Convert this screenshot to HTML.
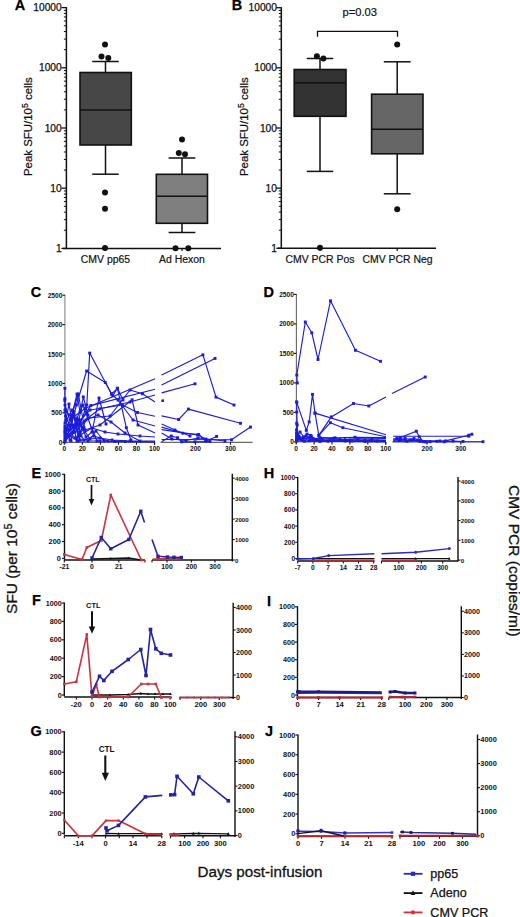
<!DOCTYPE html>
<html><head><meta charset="utf-8"><style>
html,body{margin:0;padding:0;background:#fff;}
svg{display:block;}
text{font-family:"Liberation Sans", sans-serif;}
</style></head><body>
<svg width="520" height="917" viewBox="0 0 520 917">
<rect width="520" height="917" fill="#fff"/>
<text x="14.7" y="9.5" font-size="14.5" font-weight="bold" fill="#000" stroke="#000" stroke-width="0.25">A</text>
<line x1="66.4" y1="7.1" x2="66.4" y2="249.15" stroke="#111" stroke-width="1.5"/>
<line x1="62.9" y1="248.4" x2="221" y2="248.4" stroke="#111" stroke-width="1.5"/>
<line x1="61.4" y1="248.4" x2="66.4" y2="248.4" stroke="#111" stroke-width="1.3"/>
<text x="61.7" y="252" font-size="10.2" text-anchor="end" font-weight="normal" fill="#111" stroke="#111" stroke-width="0.25">1</text>
<line x1="63.9" y1="230.28" x2="66.4" y2="230.28" stroke="#111" stroke-width="1"/>
<line x1="63.9" y1="219.68" x2="66.4" y2="219.68" stroke="#111" stroke-width="1"/>
<line x1="63.9" y1="212.16" x2="66.4" y2="212.16" stroke="#111" stroke-width="1"/>
<line x1="63.9" y1="206.32" x2="66.4" y2="206.32" stroke="#111" stroke-width="1"/>
<line x1="63.9" y1="201.56" x2="66.4" y2="201.56" stroke="#111" stroke-width="1"/>
<line x1="63.9" y1="197.53" x2="66.4" y2="197.53" stroke="#111" stroke-width="1"/>
<line x1="63.9" y1="194.03" x2="66.4" y2="194.03" stroke="#111" stroke-width="1"/>
<line x1="63.9" y1="190.95" x2="66.4" y2="190.95" stroke="#111" stroke-width="1"/>
<line x1="61.4" y1="188.2" x2="66.4" y2="188.2" stroke="#111" stroke-width="1.3"/>
<text x="61.7" y="191.8" font-size="10.2" text-anchor="end" font-weight="normal" fill="#111" stroke="#111" stroke-width="0.25">10</text>
<line x1="63.9" y1="170.08" x2="66.4" y2="170.08" stroke="#111" stroke-width="1"/>
<line x1="63.9" y1="159.48" x2="66.4" y2="159.48" stroke="#111" stroke-width="1"/>
<line x1="63.9" y1="151.96" x2="66.4" y2="151.96" stroke="#111" stroke-width="1"/>
<line x1="63.9" y1="146.12" x2="66.4" y2="146.12" stroke="#111" stroke-width="1"/>
<line x1="63.9" y1="141.36" x2="66.4" y2="141.36" stroke="#111" stroke-width="1"/>
<line x1="63.9" y1="137.33" x2="66.4" y2="137.33" stroke="#111" stroke-width="1"/>
<line x1="63.9" y1="133.83" x2="66.4" y2="133.83" stroke="#111" stroke-width="1"/>
<line x1="63.9" y1="130.75" x2="66.4" y2="130.75" stroke="#111" stroke-width="1"/>
<line x1="61.4" y1="128" x2="66.4" y2="128" stroke="#111" stroke-width="1.3"/>
<text x="61.7" y="131.6" font-size="10.2" text-anchor="end" font-weight="normal" fill="#111" stroke="#111" stroke-width="0.25">100</text>
<line x1="63.9" y1="109.88" x2="66.4" y2="109.88" stroke="#111" stroke-width="1"/>
<line x1="63.9" y1="99.28" x2="66.4" y2="99.28" stroke="#111" stroke-width="1"/>
<line x1="63.9" y1="91.76" x2="66.4" y2="91.76" stroke="#111" stroke-width="1"/>
<line x1="63.9" y1="85.92" x2="66.4" y2="85.92" stroke="#111" stroke-width="1"/>
<line x1="63.9" y1="81.16" x2="66.4" y2="81.16" stroke="#111" stroke-width="1"/>
<line x1="63.9" y1="77.13" x2="66.4" y2="77.13" stroke="#111" stroke-width="1"/>
<line x1="63.9" y1="73.63" x2="66.4" y2="73.63" stroke="#111" stroke-width="1"/>
<line x1="63.9" y1="70.55" x2="66.4" y2="70.55" stroke="#111" stroke-width="1"/>
<line x1="61.4" y1="67.8" x2="66.4" y2="67.8" stroke="#111" stroke-width="1.3"/>
<text x="61.7" y="71.4" font-size="10.2" text-anchor="end" font-weight="normal" fill="#111" stroke="#111" stroke-width="0.25">1000</text>
<line x1="63.9" y1="49.68" x2="66.4" y2="49.68" stroke="#111" stroke-width="1"/>
<line x1="63.9" y1="39.08" x2="66.4" y2="39.08" stroke="#111" stroke-width="1"/>
<line x1="63.9" y1="31.56" x2="66.4" y2="31.56" stroke="#111" stroke-width="1"/>
<line x1="63.9" y1="25.72" x2="66.4" y2="25.72" stroke="#111" stroke-width="1"/>
<line x1="63.9" y1="20.96" x2="66.4" y2="20.96" stroke="#111" stroke-width="1"/>
<line x1="63.9" y1="16.93" x2="66.4" y2="16.93" stroke="#111" stroke-width="1"/>
<line x1="63.9" y1="13.43" x2="66.4" y2="13.43" stroke="#111" stroke-width="1"/>
<line x1="63.9" y1="10.35" x2="66.4" y2="10.35" stroke="#111" stroke-width="1"/>
<line x1="61.4" y1="7.6" x2="66.4" y2="7.6" stroke="#111" stroke-width="1.3"/>
<text x="61.7" y="11.2" font-size="10.2" text-anchor="end" font-weight="normal" fill="#111" stroke="#111" stroke-width="0.25">10000</text>
<line x1="105.5" y1="61.5" x2="105.5" y2="72.5" stroke="#111" stroke-width="1.5"/>
<line x1="105.5" y1="145" x2="105.5" y2="174.2" stroke="#111" stroke-width="1.5"/>
<line x1="92.25" y1="61.5" x2="118.75" y2="61.5" stroke="#111" stroke-width="1.5"/>
<line x1="92.25" y1="174.2" x2="118.75" y2="174.2" stroke="#111" stroke-width="1.5"/>
<rect x="80" y="72.5" width="51.3" height="72.5" fill="#474747" stroke="#111" stroke-width="1.6"/>
<line x1="80" y1="110" x2="131.3" y2="110" stroke="#111" stroke-width="1.6"/>
<line x1="182" y1="158" x2="182" y2="174.3" stroke="#111" stroke-width="1.5"/>
<line x1="182" y1="223.3" x2="182" y2="232.5" stroke="#111" stroke-width="1.5"/>
<line x1="168.6" y1="158" x2="195.4" y2="158" stroke="#111" stroke-width="1.5"/>
<line x1="168.6" y1="232.5" x2="195.4" y2="232.5" stroke="#111" stroke-width="1.5"/>
<rect x="156.3" y="174.3" width="51.2" height="49" fill="#7f7f7f" stroke="#111" stroke-width="1.6"/>
<line x1="156.3" y1="196.3" x2="207.5" y2="196.3" stroke="#111" stroke-width="1.6"/>
<circle cx="105" cy="44.5" r="3" fill="#111"/>
<circle cx="101.5" cy="56.5" r="3" fill="#111"/>
<circle cx="108.3" cy="58" r="3" fill="#111"/>
<circle cx="105" cy="192.5" r="3" fill="#111"/>
<circle cx="105" cy="208.8" r="3" fill="#111"/>
<circle cx="105" cy="248" r="3" fill="#111"/>
<circle cx="182" cy="139.5" r="3" fill="#111"/>
<circle cx="178.8" cy="153" r="3" fill="#111"/>
<circle cx="185" cy="154.3" r="3" fill="#111"/>
<circle cx="175.5" cy="248.2" r="3" fill="#111"/>
<circle cx="188.3" cy="248.2" r="3" fill="#111"/>
<line x1="105.5" y1="248" x2="105.5" y2="251" stroke="#111" stroke-width="1.2"/>
<line x1="182" y1="248" x2="182" y2="251" stroke="#111" stroke-width="1.2"/>
<text x="105.5" y="263.2" font-size="10.45" text-anchor="middle" font-weight="normal" fill="#111" stroke="#111" stroke-width="0.2">CMV pp65</text>
<text x="182" y="263.2" font-size="10.45" text-anchor="middle" font-weight="normal" fill="#111" stroke="#111" stroke-width="0.2">Ad Hexon</text>
<text transform="translate(32.4,126.6) rotate(-90)" font-size="11.45" text-anchor="middle" fill="#111" stroke="#111" stroke-width="0.22">Peak SFU/10<tspan font-size="8.6" dy="-4.6">5</tspan><tspan dy="4.6"> cells</tspan></text>
<text x="231.8" y="9.8" font-size="14.5" font-weight="bold" fill="#000" stroke="#000" stroke-width="0.25">B</text>
<line x1="281.3" y1="7.2" x2="281.3" y2="249.05" stroke="#111" stroke-width="1.5"/>
<line x1="277.8" y1="248.3" x2="436" y2="248.3" stroke="#111" stroke-width="1.5"/>
<line x1="276.3" y1="248.3" x2="281.3" y2="248.3" stroke="#111" stroke-width="1.3"/>
<text x="276.9" y="251.9" font-size="10.2" text-anchor="end" font-weight="normal" fill="#111" stroke="#111" stroke-width="0.25">1</text>
<line x1="278.8" y1="230.19" x2="281.3" y2="230.19" stroke="#111" stroke-width="1"/>
<line x1="278.8" y1="219.6" x2="281.3" y2="219.6" stroke="#111" stroke-width="1"/>
<line x1="278.8" y1="212.09" x2="281.3" y2="212.09" stroke="#111" stroke-width="1"/>
<line x1="278.8" y1="206.26" x2="281.3" y2="206.26" stroke="#111" stroke-width="1"/>
<line x1="278.8" y1="201.49" x2="281.3" y2="201.49" stroke="#111" stroke-width="1"/>
<line x1="278.8" y1="197.47" x2="281.3" y2="197.47" stroke="#111" stroke-width="1"/>
<line x1="278.8" y1="193.98" x2="281.3" y2="193.98" stroke="#111" stroke-width="1"/>
<line x1="278.8" y1="190.9" x2="281.3" y2="190.9" stroke="#111" stroke-width="1"/>
<line x1="276.3" y1="188.15" x2="281.3" y2="188.15" stroke="#111" stroke-width="1.3"/>
<text x="276.9" y="191.75" font-size="10.2" text-anchor="end" font-weight="normal" fill="#111" stroke="#111" stroke-width="0.25">10</text>
<line x1="278.8" y1="170.04" x2="281.3" y2="170.04" stroke="#111" stroke-width="1"/>
<line x1="278.8" y1="159.45" x2="281.3" y2="159.45" stroke="#111" stroke-width="1"/>
<line x1="278.8" y1="151.94" x2="281.3" y2="151.94" stroke="#111" stroke-width="1"/>
<line x1="278.8" y1="146.11" x2="281.3" y2="146.11" stroke="#111" stroke-width="1"/>
<line x1="278.8" y1="141.34" x2="281.3" y2="141.34" stroke="#111" stroke-width="1"/>
<line x1="278.8" y1="137.32" x2="281.3" y2="137.32" stroke="#111" stroke-width="1"/>
<line x1="278.8" y1="133.83" x2="281.3" y2="133.83" stroke="#111" stroke-width="1"/>
<line x1="278.8" y1="130.75" x2="281.3" y2="130.75" stroke="#111" stroke-width="1"/>
<line x1="276.3" y1="128" x2="281.3" y2="128" stroke="#111" stroke-width="1.3"/>
<text x="276.9" y="131.6" font-size="10.2" text-anchor="end" font-weight="normal" fill="#111" stroke="#111" stroke-width="0.25">100</text>
<line x1="278.8" y1="109.89" x2="281.3" y2="109.89" stroke="#111" stroke-width="1"/>
<line x1="278.8" y1="99.3" x2="281.3" y2="99.3" stroke="#111" stroke-width="1"/>
<line x1="278.8" y1="91.79" x2="281.3" y2="91.79" stroke="#111" stroke-width="1"/>
<line x1="278.8" y1="85.96" x2="281.3" y2="85.96" stroke="#111" stroke-width="1"/>
<line x1="278.8" y1="81.19" x2="281.3" y2="81.19" stroke="#111" stroke-width="1"/>
<line x1="278.8" y1="77.17" x2="281.3" y2="77.17" stroke="#111" stroke-width="1"/>
<line x1="278.8" y1="73.68" x2="281.3" y2="73.68" stroke="#111" stroke-width="1"/>
<line x1="278.8" y1="70.6" x2="281.3" y2="70.6" stroke="#111" stroke-width="1"/>
<line x1="276.3" y1="67.85" x2="281.3" y2="67.85" stroke="#111" stroke-width="1.3"/>
<text x="276.9" y="71.45" font-size="10.2" text-anchor="end" font-weight="normal" fill="#111" stroke="#111" stroke-width="0.25">1000</text>
<line x1="278.8" y1="49.74" x2="281.3" y2="49.74" stroke="#111" stroke-width="1"/>
<line x1="278.8" y1="39.15" x2="281.3" y2="39.15" stroke="#111" stroke-width="1"/>
<line x1="278.8" y1="31.64" x2="281.3" y2="31.64" stroke="#111" stroke-width="1"/>
<line x1="278.8" y1="25.81" x2="281.3" y2="25.81" stroke="#111" stroke-width="1"/>
<line x1="278.8" y1="21.04" x2="281.3" y2="21.04" stroke="#111" stroke-width="1"/>
<line x1="278.8" y1="17.02" x2="281.3" y2="17.02" stroke="#111" stroke-width="1"/>
<line x1="278.8" y1="13.53" x2="281.3" y2="13.53" stroke="#111" stroke-width="1"/>
<line x1="278.8" y1="10.45" x2="281.3" y2="10.45" stroke="#111" stroke-width="1"/>
<line x1="276.3" y1="7.7" x2="281.3" y2="7.7" stroke="#111" stroke-width="1.3"/>
<text x="276.9" y="11.3" font-size="10.2" text-anchor="end" font-weight="normal" fill="#111" stroke="#111" stroke-width="0.25">10000</text>
<line x1="320" y1="58.5" x2="320" y2="69.5" stroke="#111" stroke-width="1.5"/>
<line x1="320" y1="116.3" x2="320" y2="171.4" stroke="#111" stroke-width="1.5"/>
<line x1="306.75" y1="58.5" x2="333.25" y2="58.5" stroke="#111" stroke-width="1.5"/>
<line x1="306.75" y1="171.4" x2="333.25" y2="171.4" stroke="#111" stroke-width="1.5"/>
<rect x="294.2" y="69.5" width="51.8" height="46.8" fill="#333333" stroke="#111" stroke-width="1.6"/>
<line x1="294.2" y1="82.8" x2="346" y2="82.8" stroke="#111" stroke-width="1.6"/>
<line x1="397.2" y1="61.8" x2="397.2" y2="94.2" stroke="#111" stroke-width="1.5"/>
<line x1="397.2" y1="153.8" x2="397.2" y2="193.8" stroke="#111" stroke-width="1.5"/>
<line x1="383.8" y1="61.8" x2="410.6" y2="61.8" stroke="#111" stroke-width="1.5"/>
<line x1="383.8" y1="193.8" x2="410.6" y2="193.8" stroke="#111" stroke-width="1.5"/>
<rect x="371.6" y="94.2" width="51.4" height="59.6" fill="#666666" stroke="#111" stroke-width="1.6"/>
<line x1="371.6" y1="129.2" x2="423" y2="129.2" stroke="#111" stroke-width="1.6"/>
<circle cx="316.9" cy="56.3" r="3" fill="#111"/>
<circle cx="323.4" cy="58.5" r="3" fill="#111"/>
<circle cx="320" cy="247.8" r="3" fill="#111"/>
<circle cx="397.2" cy="44.6" r="3" fill="#111"/>
<circle cx="397.2" cy="209.2" r="3" fill="#111"/>
<line x1="320" y1="248" x2="320" y2="251" stroke="#111" stroke-width="1.2"/>
<line x1="397.2" y1="248" x2="397.2" y2="251" stroke="#111" stroke-width="1.2"/>
<text x="320" y="263.2" font-size="10.45" text-anchor="middle" font-weight="normal" fill="#111" stroke="#111" stroke-width="0.2">CMV PCR Pos</text>
<text x="397.5" y="263.2" font-size="10.45" text-anchor="middle" font-weight="normal" fill="#111" stroke="#111" stroke-width="0.2">CMV PCR Neg</text>
<polyline points="317.5,36.8 317.5,31.4 397.5,31.4 397.5,36.8" fill="none" stroke="#111" stroke-width="1.3"/>
<text x="359.7" y="16.3" font-size="11.2" text-anchor="middle" font-weight="normal" fill="#111" stroke="#111" stroke-width="0.2">p=0.03</text>
<text transform="translate(248.4,126.6) rotate(-90)" font-size="11.45" text-anchor="middle" fill="#111" stroke="#111" stroke-width="0.22">Peak SFU/10<tspan font-size="8.6" dy="-4.6">5</tspan><tspan dy="4.6"> cells</tspan></text>
<text x="30.8" y="297.4" font-size="14.5" font-weight="bold" fill="#000" stroke="#000" stroke-width="0.25">C</text>
<line x1="64.9" y1="294.7" x2="64.9" y2="443.8" stroke="#999" stroke-width="1.3"/>
<line x1="62.4" y1="442.3" x2="64.9" y2="442.3" stroke="#111" stroke-width="1.1"/>
<text x="62.3" y="444.8" font-size="6.6" text-anchor="end" font-weight="bold" fill="#111">0</text>
<line x1="62.4" y1="412.88" x2="64.9" y2="412.88" stroke="#111" stroke-width="1.1"/>
<text x="62.3" y="415.38" font-size="6.6" text-anchor="end" font-weight="bold" fill="#111">500</text>
<line x1="62.4" y1="383.46" x2="64.9" y2="383.46" stroke="#111" stroke-width="1.1"/>
<text x="62.3" y="385.96" font-size="6.6" text-anchor="end" font-weight="bold" fill="#111">1000</text>
<line x1="62.4" y1="354.04" x2="64.9" y2="354.04" stroke="#111" stroke-width="1.1"/>
<text x="62.3" y="356.54" font-size="6.6" text-anchor="end" font-weight="bold" fill="#111">1500</text>
<line x1="62.4" y1="324.62" x2="64.9" y2="324.62" stroke="#111" stroke-width="1.1"/>
<text x="62.3" y="327.12" font-size="6.6" text-anchor="end" font-weight="bold" fill="#111">2000</text>
<line x1="62.4" y1="295.2" x2="64.9" y2="295.2" stroke="#111" stroke-width="1.1"/>
<text x="62.3" y="297.7" font-size="6.6" text-anchor="end" font-weight="bold" fill="#111">2500</text>
<line x1="64.5" y1="442.3" x2="154.5" y2="442.3" stroke="#444" stroke-width="1"/>
<line x1="64.3" y1="442.3" x2="64.3" y2="444.8" stroke="#111" stroke-width="1.1"/>
<text x="64.3" y="451" font-size="6.6" text-anchor="middle" font-weight="bold" fill="#111">0</text>
<line x1="82.35" y1="442.3" x2="82.35" y2="444.8" stroke="#111" stroke-width="1.1"/>
<text x="82.35" y="451" font-size="6.6" text-anchor="middle" font-weight="bold" fill="#111">20</text>
<line x1="100.4" y1="442.3" x2="100.4" y2="444.8" stroke="#111" stroke-width="1.1"/>
<text x="100.4" y="451" font-size="6.6" text-anchor="middle" font-weight="bold" fill="#111">40</text>
<line x1="118.45" y1="442.3" x2="118.45" y2="444.8" stroke="#111" stroke-width="1.1"/>
<text x="118.45" y="451" font-size="6.6" text-anchor="middle" font-weight="bold" fill="#111">60</text>
<line x1="136.5" y1="442.3" x2="136.5" y2="444.8" stroke="#111" stroke-width="1.1"/>
<text x="136.5" y="451" font-size="6.6" text-anchor="middle" font-weight="bold" fill="#111">80</text>
<line x1="154.55" y1="442.3" x2="154.55" y2="444.8" stroke="#111" stroke-width="1.1"/>
<text x="154.55" y="451" font-size="6.6" text-anchor="middle" font-weight="bold" fill="#111">100</text>
<line x1="160.5" y1="442.3" x2="252.6" y2="442.3" stroke="#444" stroke-width="1"/>
<line x1="154.55" y1="442.3" x2="154.55" y2="444.8" stroke="#111" stroke-width="1.1"/>
<line x1="195.5" y1="442.3" x2="195.5" y2="444.8" stroke="#111" stroke-width="1.1"/>
<text x="195.5" y="451" font-size="6.6" text-anchor="middle" font-weight="bold" fill="#111">200</text>
<line x1="230.5" y1="442.3" x2="230.5" y2="444.8" stroke="#111" stroke-width="1.1"/>
<text x="230.5" y="451" font-size="6.6" text-anchor="middle" font-weight="bold" fill="#111">300</text>
<text x="263.6" y="296.7" font-size="14.5" font-weight="bold" fill="#000" stroke="#000" stroke-width="0.25">D</text>
<line x1="296.4" y1="293.9" x2="296.4" y2="443.4" stroke="#666" stroke-width="1.1"/>
<line x1="293.9" y1="441.9" x2="296.4" y2="441.9" stroke="#111" stroke-width="1.1"/>
<text x="293.8" y="444.4" font-size="6.6" text-anchor="end" font-weight="bold" fill="#111">0</text>
<line x1="293.9" y1="412.4" x2="296.4" y2="412.4" stroke="#111" stroke-width="1.1"/>
<text x="293.8" y="414.9" font-size="6.6" text-anchor="end" font-weight="bold" fill="#111">500</text>
<line x1="293.9" y1="382.9" x2="296.4" y2="382.9" stroke="#111" stroke-width="1.1"/>
<text x="293.8" y="385.4" font-size="6.6" text-anchor="end" font-weight="bold" fill="#111">1000</text>
<line x1="293.9" y1="353.4" x2="296.4" y2="353.4" stroke="#111" stroke-width="1.1"/>
<text x="293.8" y="355.9" font-size="6.6" text-anchor="end" font-weight="bold" fill="#111">1500</text>
<line x1="293.9" y1="323.9" x2="296.4" y2="323.9" stroke="#111" stroke-width="1.1"/>
<text x="293.8" y="326.4" font-size="6.6" text-anchor="end" font-weight="bold" fill="#111">2000</text>
<line x1="293.9" y1="294.4" x2="296.4" y2="294.4" stroke="#111" stroke-width="1.1"/>
<text x="293.8" y="296.9" font-size="6.6" text-anchor="end" font-weight="bold" fill="#111">2500</text>
<line x1="296.5" y1="441.9" x2="385.7" y2="441.9" stroke="#666" stroke-width="1"/>
<line x1="296.2" y1="441.9" x2="296.2" y2="444.4" stroke="#111" stroke-width="1.1"/>
<text x="296.2" y="450.6" font-size="6.6" text-anchor="middle" font-weight="bold" fill="#111">0</text>
<line x1="314.1" y1="441.9" x2="314.1" y2="444.4" stroke="#111" stroke-width="1.1"/>
<text x="314.1" y="450.6" font-size="6.6" text-anchor="middle" font-weight="bold" fill="#111">20</text>
<line x1="332" y1="441.9" x2="332" y2="444.4" stroke="#111" stroke-width="1.1"/>
<text x="332" y="450.6" font-size="6.6" text-anchor="middle" font-weight="bold" fill="#111">40</text>
<line x1="349.9" y1="441.9" x2="349.9" y2="444.4" stroke="#111" stroke-width="1.1"/>
<text x="349.9" y="450.6" font-size="6.6" text-anchor="middle" font-weight="bold" fill="#111">60</text>
<line x1="367.8" y1="441.9" x2="367.8" y2="444.4" stroke="#111" stroke-width="1.1"/>
<text x="367.8" y="450.6" font-size="6.6" text-anchor="middle" font-weight="bold" fill="#111">80</text>
<line x1="385.7" y1="441.9" x2="385.7" y2="444.4" stroke="#111" stroke-width="1.1"/>
<text x="385.7" y="450.6" font-size="6.6" text-anchor="middle" font-weight="bold" fill="#111">100</text>
<line x1="392.1" y1="441.9" x2="483" y2="441.9" stroke="#666" stroke-width="1"/>
<line x1="385.7" y1="441.9" x2="385.7" y2="444.4" stroke="#111" stroke-width="1.1"/>
<line x1="427.1" y1="441.9" x2="427.1" y2="444.4" stroke="#111" stroke-width="1.1"/>
<text x="427.1" y="450.6" font-size="6.6" text-anchor="middle" font-weight="bold" fill="#111">200</text>
<line x1="460.8" y1="441.9" x2="460.8" y2="444.4" stroke="#111" stroke-width="1.1"/>
<text x="460.8" y="450.6" font-size="6.6" text-anchor="middle" font-weight="bold" fill="#111">300</text>
<text x="31.6" y="477.9" font-size="14.5" font-weight="bold" fill="#000" stroke="#000" stroke-width="0.25">E</text>
<line x1="64.5" y1="473.8" x2="64.5" y2="559.8" stroke="#111" stroke-width="1.4"/>
<line x1="62" y1="558.3" x2="64.5" y2="558.3" stroke="#111" stroke-width="1.1"/>
<text x="60.9" y="560.8" font-size="7.4" text-anchor="end" font-weight="bold" fill="#111">0</text>
<line x1="62" y1="541.5" x2="64.5" y2="541.5" stroke="#111" stroke-width="1.1"/>
<text x="60.9" y="544" font-size="7.4" text-anchor="end" font-weight="bold" fill="#111">200</text>
<line x1="62" y1="524.7" x2="64.5" y2="524.7" stroke="#111" stroke-width="1.1"/>
<text x="60.9" y="527.2" font-size="7.4" text-anchor="end" font-weight="bold" fill="#111">400</text>
<line x1="62" y1="507.9" x2="64.5" y2="507.9" stroke="#111" stroke-width="1.1"/>
<text x="60.9" y="510.4" font-size="7.4" text-anchor="end" font-weight="bold" fill="#111">600</text>
<line x1="62" y1="491.1" x2="64.5" y2="491.1" stroke="#111" stroke-width="1.1"/>
<text x="60.9" y="493.6" font-size="7.4" text-anchor="end" font-weight="bold" fill="#111">800</text>
<line x1="62" y1="474.3" x2="64.5" y2="474.3" stroke="#111" stroke-width="1.1"/>
<text x="60.9" y="476.8" font-size="7.4" text-anchor="end" font-weight="bold" fill="#111">1000</text>
<line x1="232.3" y1="473.8" x2="232.3" y2="561.5" stroke="#111" stroke-width="1.4"/>
<line x1="232.3" y1="560" x2="234.8" y2="560" stroke="#111" stroke-width="1.1"/>
<text x="235.1" y="562.5" font-size="6.1" text-anchor="start" font-weight="bold" fill="#111">0</text>
<line x1="232.3" y1="539.55" x2="234.8" y2="539.55" stroke="#111" stroke-width="1.1"/>
<text x="235.1" y="542.05" font-size="6.1" text-anchor="start" font-weight="bold" fill="#111">1000</text>
<line x1="232.3" y1="519.1" x2="234.8" y2="519.1" stroke="#111" stroke-width="1.1"/>
<text x="235.1" y="521.6" font-size="6.1" text-anchor="start" font-weight="bold" fill="#111">2000</text>
<line x1="232.3" y1="498.65" x2="234.8" y2="498.65" stroke="#111" stroke-width="1.1"/>
<text x="235.1" y="501.15" font-size="6.1" text-anchor="start" font-weight="bold" fill="#111">3000</text>
<line x1="232.3" y1="478.2" x2="234.8" y2="478.2" stroke="#111" stroke-width="1.1"/>
<text x="235.1" y="480.7" font-size="6.1" text-anchor="start" font-weight="bold" fill="#111">4000</text>
<line x1="64.3" y1="560" x2="145" y2="560" stroke="#111" stroke-width="1.4"/>
<line x1="64.3" y1="560" x2="64.3" y2="562.5" stroke="#111" stroke-width="1.1"/>
<text x="64.3" y="569.3" font-size="6.8" text-anchor="middle" font-weight="bold" fill="#111">-21</text>
<line x1="92" y1="560" x2="92" y2="562.5" stroke="#111" stroke-width="1.1"/>
<text x="92" y="569.3" font-size="6.8" text-anchor="middle" font-weight="bold" fill="#111">0</text>
<line x1="118.8" y1="560" x2="118.8" y2="562.5" stroke="#111" stroke-width="1.1"/>
<text x="118.8" y="569.3" font-size="6.8" text-anchor="middle" font-weight="bold" fill="#111">21</text>
<line x1="145" y1="560" x2="145" y2="562.5" stroke="#111" stroke-width="1.1"/>
<line x1="152" y1="560" x2="232.5" y2="560" stroke="#111" stroke-width="1.4"/>
<line x1="152" y1="560" x2="152" y2="562.5" stroke="#111" stroke-width="1.1"/>
<line x1="167" y1="560" x2="167" y2="562.5" stroke="#111" stroke-width="1.1"/>
<text x="167" y="569.3" font-size="6.8" text-anchor="middle" font-weight="bold" fill="#111">100</text>
<line x1="191.3" y1="560" x2="191.3" y2="562.5" stroke="#111" stroke-width="1.1"/>
<text x="191.3" y="569.3" font-size="6.8" text-anchor="middle" font-weight="bold" fill="#111">200</text>
<line x1="215" y1="560" x2="215" y2="562.5" stroke="#111" stroke-width="1.1"/>
<text x="215" y="569.3" font-size="6.8" text-anchor="middle" font-weight="bold" fill="#111">300</text>
<text x="92.8" y="481.5" font-size="7" text-anchor="middle" font-weight="bold" fill="#111">CTL</text>
<line x1="91.5" y1="485" x2="91.5" y2="499.4" stroke="#111" stroke-width="1.7"/>
<polygon points="88.7,498.9 94.3,498.9 91.5,505.5" fill="#111"/>
<text x="263.8" y="477.7" font-size="14.5" font-weight="bold" fill="#000" stroke="#000" stroke-width="0.25">H</text>
<line x1="297.7" y1="477" x2="297.7" y2="560" stroke="#111" stroke-width="1.4"/>
<line x1="295.2" y1="558.5" x2="297.7" y2="558.5" stroke="#111" stroke-width="1.1"/>
<text x="295.1" y="561" font-size="6.6" text-anchor="end" font-weight="bold" fill="#111">0</text>
<line x1="295.2" y1="542.3" x2="297.7" y2="542.3" stroke="#111" stroke-width="1.1"/>
<text x="295.1" y="544.8" font-size="6.6" text-anchor="end" font-weight="bold" fill="#111">200</text>
<line x1="295.2" y1="526.1" x2="297.7" y2="526.1" stroke="#111" stroke-width="1.1"/>
<text x="295.1" y="528.6" font-size="6.6" text-anchor="end" font-weight="bold" fill="#111">400</text>
<line x1="295.2" y1="509.9" x2="297.7" y2="509.9" stroke="#111" stroke-width="1.1"/>
<text x="295.1" y="512.4" font-size="6.6" text-anchor="end" font-weight="bold" fill="#111">600</text>
<line x1="295.2" y1="493.7" x2="297.7" y2="493.7" stroke="#111" stroke-width="1.1"/>
<text x="295.1" y="496.2" font-size="6.6" text-anchor="end" font-weight="bold" fill="#111">800</text>
<line x1="295.2" y1="477.5" x2="297.7" y2="477.5" stroke="#111" stroke-width="1.1"/>
<text x="295.1" y="480" font-size="6.6" text-anchor="end" font-weight="bold" fill="#111">1000</text>
<line x1="458" y1="477" x2="458" y2="561.6" stroke="#111" stroke-width="1.4"/>
<line x1="458" y1="560.1" x2="460.5" y2="560.1" stroke="#111" stroke-width="1.1"/>
<text x="460.8" y="562.6" font-size="6.1" text-anchor="start" font-weight="bold" fill="#111">0</text>
<line x1="458" y1="540.33" x2="460.5" y2="540.33" stroke="#111" stroke-width="1.1"/>
<text x="460.8" y="542.83" font-size="6.1" text-anchor="start" font-weight="bold" fill="#111">1000</text>
<line x1="458" y1="520.55" x2="460.5" y2="520.55" stroke="#111" stroke-width="1.1"/>
<text x="460.8" y="523.05" font-size="6.1" text-anchor="start" font-weight="bold" fill="#111">2000</text>
<line x1="458" y1="500.77" x2="460.5" y2="500.77" stroke="#111" stroke-width="1.1"/>
<text x="460.8" y="503.27" font-size="6.1" text-anchor="start" font-weight="bold" fill="#111">3000</text>
<line x1="458" y1="481" x2="460.5" y2="481" stroke="#111" stroke-width="1.1"/>
<text x="460.8" y="483.5" font-size="6.1" text-anchor="start" font-weight="bold" fill="#111">4000</text>
<line x1="297.7" y1="561" x2="374.4" y2="561" stroke="#111" stroke-width="1.4"/>
<line x1="297.7" y1="561" x2="297.7" y2="563.5" stroke="#111" stroke-width="1.1"/>
<text x="297.7" y="570.3" font-size="6.6" text-anchor="middle" font-weight="bold" fill="#111">-7</text>
<line x1="312.9" y1="561" x2="312.9" y2="563.5" stroke="#111" stroke-width="1.1"/>
<text x="312.9" y="570.3" font-size="6.6" text-anchor="middle" font-weight="bold" fill="#111">0</text>
<line x1="328.1" y1="561" x2="328.1" y2="563.5" stroke="#111" stroke-width="1.1"/>
<text x="328.1" y="570.3" font-size="6.6" text-anchor="middle" font-weight="bold" fill="#111">7</text>
<line x1="343.3" y1="561" x2="343.3" y2="563.5" stroke="#111" stroke-width="1.1"/>
<text x="343.3" y="570.3" font-size="6.6" text-anchor="middle" font-weight="bold" fill="#111">14</text>
<line x1="358.5" y1="561" x2="358.5" y2="563.5" stroke="#111" stroke-width="1.1"/>
<text x="358.5" y="570.3" font-size="6.6" text-anchor="middle" font-weight="bold" fill="#111">21</text>
<line x1="373.7" y1="561" x2="373.7" y2="563.5" stroke="#111" stroke-width="1.1"/>
<text x="373.7" y="570.3" font-size="6.6" text-anchor="middle" font-weight="bold" fill="#111">28</text>
<line x1="381.5" y1="561" x2="458" y2="561" stroke="#111" stroke-width="1.4"/>
<line x1="381.5" y1="561" x2="381.5" y2="563.5" stroke="#111" stroke-width="1.1"/>
<line x1="398.8" y1="561" x2="398.8" y2="563.5" stroke="#111" stroke-width="1.1"/>
<text x="398.8" y="570.3" font-size="6.6" text-anchor="middle" font-weight="bold" fill="#111">100</text>
<line x1="421.3" y1="561" x2="421.3" y2="563.5" stroke="#111" stroke-width="1.1"/>
<text x="421.3" y="570.3" font-size="6.6" text-anchor="middle" font-weight="bold" fill="#111">200</text>
<line x1="442.7" y1="561" x2="442.7" y2="563.5" stroke="#111" stroke-width="1.1"/>
<text x="442.7" y="570.3" font-size="6.6" text-anchor="middle" font-weight="bold" fill="#111">300</text>
<text x="32" y="605.3" font-size="14.5" font-weight="bold" fill="#000" stroke="#000" stroke-width="0.25">F</text>
<line x1="64.3" y1="602.5" x2="64.3" y2="696.5" stroke="#111" stroke-width="1.4"/>
<line x1="61.8" y1="695" x2="64.3" y2="695" stroke="#111" stroke-width="1.1"/>
<text x="61.7" y="697.5" font-size="7.2" text-anchor="end" font-weight="bold" fill="#111">0</text>
<line x1="61.8" y1="676.6" x2="64.3" y2="676.6" stroke="#111" stroke-width="1.1"/>
<text x="61.7" y="679.1" font-size="7.2" text-anchor="end" font-weight="bold" fill="#111">200</text>
<line x1="61.8" y1="658.2" x2="64.3" y2="658.2" stroke="#111" stroke-width="1.1"/>
<text x="61.7" y="660.7" font-size="7.2" text-anchor="end" font-weight="bold" fill="#111">400</text>
<line x1="61.8" y1="639.8" x2="64.3" y2="639.8" stroke="#111" stroke-width="1.1"/>
<text x="61.7" y="642.3" font-size="7.2" text-anchor="end" font-weight="bold" fill="#111">600</text>
<line x1="61.8" y1="621.4" x2="64.3" y2="621.4" stroke="#111" stroke-width="1.1"/>
<text x="61.7" y="623.9" font-size="7.2" text-anchor="end" font-weight="bold" fill="#111">800</text>
<line x1="61.8" y1="603" x2="64.3" y2="603" stroke="#111" stroke-width="1.1"/>
<text x="61.7" y="605.5" font-size="7.2" text-anchor="end" font-weight="bold" fill="#111">1000</text>
<line x1="233.2" y1="602.8" x2="233.2" y2="699" stroke="#111" stroke-width="1.4"/>
<line x1="233.2" y1="697.5" x2="235.7" y2="697.5" stroke="#111" stroke-width="1.1"/>
<text x="236" y="700" font-size="7.2" text-anchor="start" font-weight="bold" fill="#111">0</text>
<line x1="233.2" y1="675" x2="235.7" y2="675" stroke="#111" stroke-width="1.1"/>
<text x="236" y="677.5" font-size="7.2" text-anchor="start" font-weight="bold" fill="#111">1000</text>
<line x1="233.2" y1="652.5" x2="235.7" y2="652.5" stroke="#111" stroke-width="1.1"/>
<text x="236" y="655" font-size="7.2" text-anchor="start" font-weight="bold" fill="#111">2000</text>
<line x1="233.2" y1="630" x2="235.7" y2="630" stroke="#111" stroke-width="1.1"/>
<text x="236" y="632.5" font-size="7.2" text-anchor="start" font-weight="bold" fill="#111">3000</text>
<line x1="233.2" y1="607.5" x2="235.7" y2="607.5" stroke="#111" stroke-width="1.1"/>
<text x="236" y="610" font-size="7.2" text-anchor="start" font-weight="bold" fill="#111">4000</text>
<line x1="64.3" y1="697" x2="170.5" y2="697" stroke="#111" stroke-width="1.4"/>
<line x1="76.35" y1="697" x2="76.35" y2="699.5" stroke="#111" stroke-width="1.1"/>
<text x="76.35" y="707.1" font-size="7.6" text-anchor="middle" font-weight="bold" fill="#111">-20</text>
<line x1="92" y1="697" x2="92" y2="699.5" stroke="#111" stroke-width="1.1"/>
<text x="92" y="707.1" font-size="7.6" text-anchor="middle" font-weight="bold" fill="#111">0</text>
<line x1="107.65" y1="697" x2="107.65" y2="699.5" stroke="#111" stroke-width="1.1"/>
<text x="107.65" y="707.1" font-size="7.6" text-anchor="middle" font-weight="bold" fill="#111">20</text>
<line x1="123.3" y1="697" x2="123.3" y2="699.5" stroke="#111" stroke-width="1.1"/>
<text x="123.3" y="707.1" font-size="7.6" text-anchor="middle" font-weight="bold" fill="#111">40</text>
<line x1="138.95" y1="697" x2="138.95" y2="699.5" stroke="#111" stroke-width="1.1"/>
<text x="138.95" y="707.1" font-size="7.6" text-anchor="middle" font-weight="bold" fill="#111">60</text>
<line x1="154.6" y1="697" x2="154.6" y2="699.5" stroke="#111" stroke-width="1.1"/>
<text x="154.6" y="707.1" font-size="7.6" text-anchor="middle" font-weight="bold" fill="#111">80</text>
<line x1="170.25" y1="697" x2="170.25" y2="699.5" stroke="#111" stroke-width="1.1"/>
<text x="170.25" y="707.1" font-size="7.6" text-anchor="middle" font-weight="bold" fill="#111">100</text>
<line x1="180" y1="697.5" x2="233" y2="697.5" stroke="#111" stroke-width="1.4"/>
<line x1="180" y1="697.5" x2="180" y2="700" stroke="#111" stroke-width="1.1"/>
<line x1="200.8" y1="697.5" x2="200.8" y2="700" stroke="#111" stroke-width="1.1"/>
<text x="200.8" y="707.1" font-size="7.6" text-anchor="middle" font-weight="bold" fill="#111">200</text>
<line x1="219.3" y1="697.5" x2="219.3" y2="700" stroke="#111" stroke-width="1.1"/>
<text x="219.3" y="707.1" font-size="7.6" text-anchor="middle" font-weight="bold" fill="#111">300</text>
<text x="93.3" y="607.8" font-size="7.4" text-anchor="middle" font-weight="bold" fill="#111">CTL</text>
<line x1="92" y1="611.3" x2="92" y2="627.1" stroke="#111" stroke-width="2"/>
<polygon points="88.8,626.6 95.2,626.6 92,633.8" fill="#111"/>
<text x="266.9" y="605.7" font-size="14.5" font-weight="bold" fill="#000" stroke="#000" stroke-width="0.25">I</text>
<line x1="297.5" y1="606.3" x2="297.5" y2="696.5" stroke="#111" stroke-width="1.4"/>
<line x1="295" y1="695" x2="297.5" y2="695" stroke="#111" stroke-width="1.1"/>
<text x="294.9" y="697.5" font-size="7.2" text-anchor="end" font-weight="bold" fill="#111">0</text>
<line x1="295" y1="677.36" x2="297.5" y2="677.36" stroke="#111" stroke-width="1.1"/>
<text x="294.9" y="679.86" font-size="7.2" text-anchor="end" font-weight="bold" fill="#111">200</text>
<line x1="295" y1="659.72" x2="297.5" y2="659.72" stroke="#111" stroke-width="1.1"/>
<text x="294.9" y="662.22" font-size="7.2" text-anchor="end" font-weight="bold" fill="#111">400</text>
<line x1="295" y1="642.08" x2="297.5" y2="642.08" stroke="#111" stroke-width="1.1"/>
<text x="294.9" y="644.58" font-size="7.2" text-anchor="end" font-weight="bold" fill="#111">600</text>
<line x1="295" y1="624.44" x2="297.5" y2="624.44" stroke="#111" stroke-width="1.1"/>
<text x="294.9" y="626.94" font-size="7.2" text-anchor="end" font-weight="bold" fill="#111">800</text>
<line x1="295" y1="606.8" x2="297.5" y2="606.8" stroke="#111" stroke-width="1.1"/>
<text x="294.9" y="609.3" font-size="7.2" text-anchor="end" font-weight="bold" fill="#111">1000</text>
<line x1="461.3" y1="606.3" x2="461.3" y2="699" stroke="#111" stroke-width="1.4"/>
<line x1="461.3" y1="697.5" x2="463.8" y2="697.5" stroke="#111" stroke-width="1.1"/>
<text x="464.1" y="700" font-size="7.2" text-anchor="start" font-weight="bold" fill="#111">0</text>
<line x1="461.3" y1="675.95" x2="463.8" y2="675.95" stroke="#111" stroke-width="1.1"/>
<text x="464.1" y="678.45" font-size="7.2" text-anchor="start" font-weight="bold" fill="#111">1000</text>
<line x1="461.3" y1="654.4" x2="463.8" y2="654.4" stroke="#111" stroke-width="1.1"/>
<text x="464.1" y="656.9" font-size="7.2" text-anchor="start" font-weight="bold" fill="#111">2000</text>
<line x1="461.3" y1="632.85" x2="463.8" y2="632.85" stroke="#111" stroke-width="1.1"/>
<text x="464.1" y="635.35" font-size="7.2" text-anchor="start" font-weight="bold" fill="#111">3000</text>
<line x1="461.3" y1="611.3" x2="463.8" y2="611.3" stroke="#111" stroke-width="1.1"/>
<text x="464.1" y="613.8" font-size="7.2" text-anchor="start" font-weight="bold" fill="#111">4000</text>
<line x1="297.5" y1="697.5" x2="381.8" y2="697.5" stroke="#111" stroke-width="1.4"/>
<line x1="297.5" y1="697.5" x2="297.5" y2="700" stroke="#111" stroke-width="1.1"/>
<text x="297.5" y="706.8" font-size="7.6" text-anchor="middle" font-weight="bold" fill="#111">0</text>
<line x1="318.56" y1="697.5" x2="318.56" y2="700" stroke="#111" stroke-width="1.1"/>
<text x="318.56" y="706.8" font-size="7.6" text-anchor="middle" font-weight="bold" fill="#111">7</text>
<line x1="339.62" y1="697.5" x2="339.62" y2="700" stroke="#111" stroke-width="1.1"/>
<text x="339.62" y="706.8" font-size="7.6" text-anchor="middle" font-weight="bold" fill="#111">14</text>
<line x1="360.68" y1="697.5" x2="360.68" y2="700" stroke="#111" stroke-width="1.1"/>
<text x="360.68" y="706.8" font-size="7.6" text-anchor="middle" font-weight="bold" fill="#111">21</text>
<line x1="381.74" y1="697.5" x2="381.74" y2="700" stroke="#111" stroke-width="1.1"/>
<text x="381.74" y="706.8" font-size="7.6" text-anchor="middle" font-weight="bold" fill="#111">28</text>
<line x1="388.8" y1="697.5" x2="461.3" y2="697.5" stroke="#111" stroke-width="1.4"/>
<line x1="388.8" y1="697.5" x2="388.8" y2="700" stroke="#111" stroke-width="1.1"/>
<line x1="405" y1="697.5" x2="405" y2="700" stroke="#111" stroke-width="1.1"/>
<text x="405" y="706.8" font-size="7.6" text-anchor="middle" font-weight="bold" fill="#111">100</text>
<line x1="426.3" y1="697.5" x2="426.3" y2="700" stroke="#111" stroke-width="1.1"/>
<text x="426.3" y="706.8" font-size="7.6" text-anchor="middle" font-weight="bold" fill="#111">200</text>
<line x1="447" y1="697.5" x2="447" y2="700" stroke="#111" stroke-width="1.1"/>
<text x="447" y="706.8" font-size="7.6" text-anchor="middle" font-weight="bold" fill="#111">300</text>
<text x="30.6" y="735.6" font-size="14.5" font-weight="bold" fill="#000" stroke="#000" stroke-width="0.25">G</text>
<line x1="64.3" y1="731.3" x2="64.3" y2="834.8" stroke="#111" stroke-width="1.4"/>
<line x1="61.8" y1="833.3" x2="64.3" y2="833.3" stroke="#111" stroke-width="1.1"/>
<text x="61.7" y="835.8" font-size="7.4" text-anchor="end" font-weight="bold" fill="#111">0</text>
<line x1="61.8" y1="813" x2="64.3" y2="813" stroke="#111" stroke-width="1.1"/>
<text x="61.7" y="815.5" font-size="7.4" text-anchor="end" font-weight="bold" fill="#111">200</text>
<line x1="61.8" y1="792.7" x2="64.3" y2="792.7" stroke="#111" stroke-width="1.1"/>
<text x="61.7" y="795.2" font-size="7.4" text-anchor="end" font-weight="bold" fill="#111">400</text>
<line x1="61.8" y1="772.4" x2="64.3" y2="772.4" stroke="#111" stroke-width="1.1"/>
<text x="61.7" y="774.9" font-size="7.4" text-anchor="end" font-weight="bold" fill="#111">600</text>
<line x1="61.8" y1="752.1" x2="64.3" y2="752.1" stroke="#111" stroke-width="1.1"/>
<text x="61.7" y="754.6" font-size="7.4" text-anchor="end" font-weight="bold" fill="#111">800</text>
<line x1="61.8" y1="731.8" x2="64.3" y2="731.8" stroke="#111" stroke-width="1.1"/>
<text x="61.7" y="734.3" font-size="7.4" text-anchor="end" font-weight="bold" fill="#111">1000</text>
<line x1="235" y1="731.3" x2="235" y2="837" stroke="#111" stroke-width="1.4"/>
<line x1="235" y1="835.5" x2="237.5" y2="835.5" stroke="#111" stroke-width="1.1"/>
<text x="237.8" y="838" font-size="7.4" text-anchor="start" font-weight="bold" fill="#111">0</text>
<line x1="235" y1="810.83" x2="237.5" y2="810.83" stroke="#111" stroke-width="1.1"/>
<text x="237.8" y="813.33" font-size="7.4" text-anchor="start" font-weight="bold" fill="#111">1000</text>
<line x1="235" y1="786.15" x2="237.5" y2="786.15" stroke="#111" stroke-width="1.1"/>
<text x="237.8" y="788.65" font-size="7.4" text-anchor="start" font-weight="bold" fill="#111">2000</text>
<line x1="235" y1="761.47" x2="237.5" y2="761.47" stroke="#111" stroke-width="1.1"/>
<text x="237.8" y="763.97" font-size="7.4" text-anchor="start" font-weight="bold" fill="#111">3000</text>
<line x1="235" y1="736.8" x2="237.5" y2="736.8" stroke="#111" stroke-width="1.1"/>
<text x="237.8" y="739.3" font-size="7.4" text-anchor="start" font-weight="bold" fill="#111">4000</text>
<line x1="64.3" y1="835.8" x2="161.8" y2="835.8" stroke="#111" stroke-width="1.4"/>
<line x1="64.3" y1="835.8" x2="64.3" y2="838.3" stroke="#111" stroke-width="1.1"/>
<line x1="78.3" y1="835.8" x2="78.3" y2="838.3" stroke="#111" stroke-width="1.1"/>
<text x="78.3" y="846" font-size="7.6" text-anchor="middle" font-weight="bold" fill="#111">-14</text>
<line x1="92" y1="835.8" x2="92" y2="838.3" stroke="#111" stroke-width="1.1"/>
<line x1="105.5" y1="835.8" x2="105.5" y2="838.3" stroke="#111" stroke-width="1.1"/>
<text x="105.5" y="846" font-size="7.6" text-anchor="middle" font-weight="bold" fill="#111">0</text>
<line x1="119.3" y1="835.8" x2="119.3" y2="838.3" stroke="#111" stroke-width="1.1"/>
<line x1="133" y1="835.8" x2="133" y2="838.3" stroke="#111" stroke-width="1.1"/>
<text x="133" y="846" font-size="7.6" text-anchor="middle" font-weight="bold" fill="#111">14</text>
<line x1="147" y1="835.8" x2="147" y2="838.3" stroke="#111" stroke-width="1.1"/>
<line x1="161.8" y1="835.8" x2="161.8" y2="838.3" stroke="#111" stroke-width="1.1"/>
<text x="161.8" y="846" font-size="7.6" text-anchor="middle" font-weight="bold" fill="#111">28</text>
<line x1="170.5" y1="835.8" x2="235" y2="835.8" stroke="#111" stroke-width="1.4"/>
<line x1="170.5" y1="835.8" x2="170.5" y2="838.3" stroke="#111" stroke-width="1.1"/>
<line x1="184.6" y1="835.8" x2="184.6" y2="838.3" stroke="#111" stroke-width="1.1"/>
<text x="184.6" y="846" font-size="7.6" text-anchor="middle" font-weight="bold" fill="#111">100</text>
<line x1="203" y1="835.8" x2="203" y2="838.3" stroke="#111" stroke-width="1.1"/>
<text x="203" y="846" font-size="7.6" text-anchor="middle" font-weight="bold" fill="#111">200</text>
<line x1="220.4" y1="835.8" x2="220.4" y2="838.3" stroke="#111" stroke-width="1.1"/>
<text x="220.4" y="846" font-size="7.6" text-anchor="middle" font-weight="bold" fill="#111">300</text>
<text x="106.6" y="751.8" font-size="8.2" text-anchor="middle" font-weight="bold" fill="#111">CTL</text>
<line x1="105.3" y1="755.5" x2="105.3" y2="773.3" stroke="#111" stroke-width="2.1"/>
<polygon points="101.7,772.8 108.9,772.8 105.3,781" fill="#111"/>
<text x="265.1" y="735.5" font-size="14.5" font-weight="bold" fill="#000" stroke="#000" stroke-width="0.25">J</text>
<line x1="298" y1="734.5" x2="298" y2="835.3" stroke="#111" stroke-width="1.4"/>
<line x1="295.5" y1="833.8" x2="298" y2="833.8" stroke="#111" stroke-width="1.1"/>
<text x="295.4" y="836.3" font-size="7.4" text-anchor="end" font-weight="bold" fill="#111">0</text>
<line x1="295.5" y1="814.04" x2="298" y2="814.04" stroke="#111" stroke-width="1.1"/>
<text x="295.4" y="816.54" font-size="7.4" text-anchor="end" font-weight="bold" fill="#111">200</text>
<line x1="295.5" y1="794.28" x2="298" y2="794.28" stroke="#111" stroke-width="1.1"/>
<text x="295.4" y="796.78" font-size="7.4" text-anchor="end" font-weight="bold" fill="#111">400</text>
<line x1="295.5" y1="774.52" x2="298" y2="774.52" stroke="#111" stroke-width="1.1"/>
<text x="295.4" y="777.02" font-size="7.4" text-anchor="end" font-weight="bold" fill="#111">600</text>
<line x1="295.5" y1="754.76" x2="298" y2="754.76" stroke="#111" stroke-width="1.1"/>
<text x="295.4" y="757.26" font-size="7.4" text-anchor="end" font-weight="bold" fill="#111">800</text>
<line x1="295.5" y1="735" x2="298" y2="735" stroke="#111" stroke-width="1.1"/>
<text x="295.4" y="737.5" font-size="7.4" text-anchor="end" font-weight="bold" fill="#111">1000</text>
<line x1="477.5" y1="734.5" x2="477.5" y2="837.3" stroke="#111" stroke-width="1.4"/>
<line x1="477.5" y1="835.8" x2="480" y2="835.8" stroke="#111" stroke-width="1.1"/>
<text x="480.3" y="838.3" font-size="7.4" text-anchor="start" font-weight="bold" fill="#111">0</text>
<line x1="477.5" y1="811.72" x2="480" y2="811.72" stroke="#111" stroke-width="1.1"/>
<text x="480.3" y="814.22" font-size="7.4" text-anchor="start" font-weight="bold" fill="#111">1000</text>
<line x1="477.5" y1="787.65" x2="480" y2="787.65" stroke="#111" stroke-width="1.1"/>
<text x="480.3" y="790.15" font-size="7.4" text-anchor="start" font-weight="bold" fill="#111">2000</text>
<line x1="477.5" y1="763.58" x2="480" y2="763.58" stroke="#111" stroke-width="1.1"/>
<text x="480.3" y="766.08" font-size="7.4" text-anchor="start" font-weight="bold" fill="#111">3000</text>
<line x1="477.5" y1="739.5" x2="480" y2="739.5" stroke="#111" stroke-width="1.1"/>
<text x="480.3" y="742" font-size="7.4" text-anchor="start" font-weight="bold" fill="#111">4000</text>
<line x1="298" y1="836.3" x2="392" y2="836.3" stroke="#111" stroke-width="1.4"/>
<line x1="298" y1="836.3" x2="298" y2="838.8" stroke="#111" stroke-width="1.1"/>
<text x="298" y="845.6" font-size="7.6" text-anchor="middle" font-weight="bold" fill="#111">0</text>
<line x1="321.5" y1="836.3" x2="321.5" y2="838.8" stroke="#111" stroke-width="1.1"/>
<text x="321.5" y="845.6" font-size="7.6" text-anchor="middle" font-weight="bold" fill="#111">7</text>
<line x1="345" y1="836.3" x2="345" y2="838.8" stroke="#111" stroke-width="1.1"/>
<text x="345" y="845.6" font-size="7.6" text-anchor="middle" font-weight="bold" fill="#111">14</text>
<line x1="368.5" y1="836.3" x2="368.5" y2="838.8" stroke="#111" stroke-width="1.1"/>
<text x="368.5" y="845.6" font-size="7.6" text-anchor="middle" font-weight="bold" fill="#111">21</text>
<line x1="392" y1="836.3" x2="392" y2="838.8" stroke="#111" stroke-width="1.1"/>
<text x="392" y="845.6" font-size="7.6" text-anchor="middle" font-weight="bold" fill="#111">28</text>
<line x1="400" y1="836.3" x2="477.5" y2="836.3" stroke="#111" stroke-width="1.4"/>
<line x1="400" y1="836.3" x2="400" y2="838.8" stroke="#111" stroke-width="1.1"/>
<line x1="418.8" y1="836.3" x2="418.8" y2="838.8" stroke="#111" stroke-width="1.1"/>
<text x="418.8" y="845.6" font-size="7.6" text-anchor="middle" font-weight="bold" fill="#111">100</text>
<line x1="439.5" y1="836.3" x2="439.5" y2="838.8" stroke="#111" stroke-width="1.1"/>
<text x="439.5" y="845.6" font-size="7.6" text-anchor="middle" font-weight="bold" fill="#111">200</text>
<line x1="462.5" y1="836.3" x2="462.5" y2="838.8" stroke="#111" stroke-width="1.1"/>
<text x="462.5" y="845.6" font-size="7.6" text-anchor="middle" font-weight="bold" fill="#111">300</text>
<text transform="translate(16.8,548.5) rotate(-90)" font-size="15.5" text-anchor="middle" fill="#111" stroke="#111" stroke-width="0.3">SFU (per 10<tspan font-size="10.8" dy="-5.2">5</tspan><tspan dy="5.2"> cells)</tspan></text>
<text transform="translate(508.5,560.8) rotate(90)" font-size="15.5" text-anchor="middle" fill="#111" stroke="#111" stroke-width="0.3">CMV PCR (copies/ml)</text>
<text x="197.5" y="876.8" font-size="15.2" text-anchor="start" font-weight="normal" fill="#111" stroke="#111" stroke-width="0.3">Days post-infusion</text>
<line x1="403.7" y1="873.8" x2="422.5" y2="873.8" stroke="#2828c4" stroke-width="1.8"/>
<rect x="410.9" y="871.7" width="4.2" height="4.2" fill="#2828c4"/>
<text x="430.3" y="878" font-size="12.6" text-anchor="start" font-weight="normal" fill="#111" stroke="#111" stroke-width="0.25">pp65</text>
<line x1="403.7" y1="893.1" x2="422.5" y2="893.1" stroke="#111" stroke-width="1.8"/>
<polygon points="413,890.34 410.7,894.94 415.3,894.94" fill="#111"/>
<text x="430.3" y="897.3" font-size="12.6" text-anchor="start" font-weight="normal" fill="#111" stroke="#111" stroke-width="0.25">Adeno</text>
<line x1="403.7" y1="912.4" x2="422.5" y2="912.4" stroke="#d83038" stroke-width="1.8"/>
<circle cx="413" cy="912.4" r="2.1" fill="#d83038"/>
<text x="430.3" y="916.6" font-size="12.6" text-anchor="start" font-weight="normal" fill="#111" stroke="#111" stroke-width="0.25">CMV PCR</text>
<polyline points="92,559 110.8,558.5 128.8,558 141,560 145,560" fill="none" stroke="#111" stroke-width="1.3" stroke-linejoin="round"/>
<polygon points="92,557.44 90.7,560.04 93.3,560.04" fill="#111"/>
<polygon points="110.8,556.94 109.5,559.54 112.1,559.54" fill="#111"/>
<polygon points="128.8,556.44 127.5,559.04 130.1,559.04" fill="#111"/>
<polygon points="141,558.44 139.7,561.04 142.3,561.04" fill="#111"/>
<polyline points="64.3,554.5 82,559.5 86.8,547.5 101.3,540.5 110.8,495 141.3,560 145,560" fill="none" stroke="#c8343e" stroke-width="1.6" stroke-linejoin="round"/>
<rect x="63" y="553.2" width="2.6" height="2.6" fill="#c8343e"/>
<rect x="80.7" y="558.2" width="2.6" height="2.6" fill="#c8343e"/>
<rect x="85.5" y="546.2" width="2.6" height="2.6" fill="#c8343e"/>
<rect x="100" y="539.2" width="2.6" height="2.6" fill="#c8343e"/>
<rect x="109.5" y="493.7" width="2.6" height="2.6" fill="#c8343e"/>
<rect x="140" y="558.7" width="2.6" height="2.6" fill="#c8343e"/>
<polyline points="92,558 101.3,537.5 110.8,548.8 128.8,539.5 140.8,511.3 144.5,522.5" fill="none" stroke="#24249f" stroke-width="1.6" stroke-linejoin="round"/>
<rect x="90.3" y="556.3" width="3.4" height="3.4" fill="#24249f"/>
<rect x="99.6" y="535.8" width="3.4" height="3.4" fill="#24249f"/>
<rect x="109.1" y="547.1" width="3.4" height="3.4" fill="#24249f"/>
<rect x="127.1" y="537.8" width="3.4" height="3.4" fill="#24249f"/>
<rect x="139.1" y="509.6" width="3.4" height="3.4" fill="#24249f"/>
<polyline points="152.5,559.5 158,559 165,559 172,559 181.3,558.8" fill="none" stroke="#c8343e" stroke-width="1.8" stroke-linejoin="round"/>
<rect x="156.7" y="557.7" width="2.6" height="2.6" fill="#c8343e"/>
<rect x="163.7" y="557.7" width="2.6" height="2.6" fill="#c8343e"/>
<rect x="170.7" y="557.7" width="2.6" height="2.6" fill="#c8343e"/>
<rect x="180" y="557.5" width="2.6" height="2.6" fill="#c8343e"/>
<polyline points="152,539.5 158,556.3 167.5,557 174,557.3 181.3,557.5" fill="none" stroke="#24249f" stroke-width="1.6" stroke-linejoin="round"/>
<rect x="156.3" y="554.6" width="3.4" height="3.4" fill="#24249f"/>
<rect x="165.8" y="555.3" width="3.4" height="3.4" fill="#24249f"/>
<rect x="172.3" y="555.6" width="3.4" height="3.4" fill="#24249f"/>
<rect x="179.6" y="555.8" width="3.4" height="3.4" fill="#24249f"/>
<polyline points="297.7,558.6 313.3,558.6 374.4,558.6" fill="none" stroke="#111" stroke-width="1.3" stroke-linejoin="round"/>
<polygon points="297.7,557.04 296.4,559.64 299,559.64" fill="#111"/>
<polygon points="313.3,557.04 312,559.64 314.6,559.64" fill="#111"/>
<polyline points="381.5,558.6 415.6,558.6 449.3,558.6" fill="none" stroke="#111" stroke-width="1.3" stroke-linejoin="round"/>
<polygon points="415.6,557.04 414.3,559.64 416.9,559.64" fill="#111"/>
<polygon points="449.3,557.04 448,559.64 450.6,559.64" fill="#111"/>
<polyline points="313.3,560.6 328.7,560.6 374.4,560.6" fill="none" stroke="#a83038" stroke-width="2" stroke-linejoin="round"/>
<circle cx="313.3" cy="560.6" r="1.2" fill="#a83038"/>
<circle cx="328.7" cy="560.6" r="1.2" fill="#a83038"/>
<polyline points="381.5,560.6 415.6,560.6" fill="none" stroke="#a83038" stroke-width="2" stroke-linejoin="round"/>
<circle cx="415.6" cy="560.6" r="1.2" fill="#a83038"/>
<polyline points="297.7,559 313.3,558.5 328.7,555.6 374.4,553.7" fill="none" stroke="#2a2ac0" stroke-width="1.4" stroke-linejoin="round"/>
<circle cx="297.7" cy="559" r="1.5" fill="#2a2ac0"/>
<circle cx="313.3" cy="558.5" r="1.5" fill="#2a2ac0"/>
<circle cx="328.7" cy="555.6" r="1.5" fill="#2a2ac0"/>
<polyline points="381.5,553.7 415.6,552.3 449.3,548.6" fill="none" stroke="#2a2ac0" stroke-width="1.4" stroke-linejoin="round"/>
<circle cx="415.6" cy="552.3" r="1.5" fill="#2a2ac0"/>
<circle cx="449.3" cy="548.6" r="1.5" fill="#2a2ac0"/>
<polyline points="92,695 110,695 128,694.5 140.8,693.5 148,694 155,694 163,694 170.5,694" fill="none" stroke="#111" stroke-width="1.3" stroke-linejoin="round"/>
<polygon points="92,693.44 90.7,696.04 93.3,696.04" fill="#111"/>
<polygon points="110,693.44 108.7,696.04 111.3,696.04" fill="#111"/>
<polygon points="128,692.94 126.7,695.54 129.3,695.54" fill="#111"/>
<polygon points="140.8,691.94 139.5,694.54 142.1,694.54" fill="#111"/>
<polygon points="148,692.44 146.7,695.04 149.3,695.04" fill="#111"/>
<polygon points="155,692.44 153.7,695.04 156.3,695.04" fill="#111"/>
<polygon points="163,692.44 161.7,695.04 164.3,695.04" fill="#111"/>
<polygon points="170.5,692.44 169.2,695.04 171.8,695.04" fill="#111"/>
<polyline points="64.3,684 76.3,681.8 86.8,634.5 92,696.3 96.3,684.5 99.3,697 110,697 128,697 141.3,684 148,684 155.8,684 161.3,697.5 170.5,697.5" fill="none" stroke="#c8343e" stroke-width="1.6" stroke-linejoin="round"/>
<rect x="63" y="682.7" width="2.6" height="2.6" fill="#c8343e"/>
<rect x="75" y="680.5" width="2.6" height="2.6" fill="#c8343e"/>
<rect x="85.5" y="633.2" width="2.6" height="2.6" fill="#c8343e"/>
<rect x="90.7" y="695" width="2.6" height="2.6" fill="#c8343e"/>
<rect x="95" y="683.2" width="2.6" height="2.6" fill="#c8343e"/>
<rect x="98" y="695.7" width="2.6" height="2.6" fill="#c8343e"/>
<rect x="108.7" y="695.7" width="2.6" height="2.6" fill="#c8343e"/>
<rect x="126.7" y="695.7" width="2.6" height="2.6" fill="#c8343e"/>
<rect x="140" y="682.7" width="2.6" height="2.6" fill="#c8343e"/>
<rect x="146.7" y="682.7" width="2.6" height="2.6" fill="#c8343e"/>
<rect x="154.5" y="682.7" width="2.6" height="2.6" fill="#c8343e"/>
<rect x="160" y="696.2" width="2.6" height="2.6" fill="#c8343e"/>
<rect x="169.2" y="696.2" width="2.6" height="2.6" fill="#c8343e"/>
<polyline points="92,692 99.5,676.3 103.8,680.5 112,671.3 128.3,659.5 140.8,649.5 146,675.5 150.5,629.5 155.8,648.8 161.3,653.3 170.5,655" fill="none" stroke="#24249f" stroke-width="1.6" stroke-linejoin="round"/>
<rect x="90.2" y="690.2" width="3.6" height="3.6" fill="#24249f"/>
<rect x="97.7" y="674.5" width="3.6" height="3.6" fill="#24249f"/>
<rect x="102" y="678.7" width="3.6" height="3.6" fill="#24249f"/>
<rect x="110.2" y="669.5" width="3.6" height="3.6" fill="#24249f"/>
<rect x="126.5" y="657.7" width="3.6" height="3.6" fill="#24249f"/>
<rect x="139" y="647.7" width="3.6" height="3.6" fill="#24249f"/>
<rect x="144.2" y="673.7" width="3.6" height="3.6" fill="#24249f"/>
<rect x="148.7" y="627.7" width="3.6" height="3.6" fill="#24249f"/>
<rect x="154" y="647" width="3.6" height="3.6" fill="#24249f"/>
<rect x="159.5" y="651.5" width="3.6" height="3.6" fill="#24249f"/>
<rect x="168.7" y="653.2" width="3.6" height="3.6" fill="#24249f"/>
<polyline points="180,697.5 187,697.5 194,697.5 201,697.5 208,697.5 215,697.5 222,697.5 229,697.5" fill="none" stroke="#c8343e" stroke-width="1.6" stroke-linejoin="round"/>
<circle cx="180" cy="697.5" r="1.1" fill="#c8343e"/>
<circle cx="187" cy="697.5" r="1.1" fill="#c8343e"/>
<circle cx="194" cy="697.5" r="1.1" fill="#c8343e"/>
<circle cx="201" cy="697.5" r="1.1" fill="#c8343e"/>
<circle cx="208" cy="697.5" r="1.1" fill="#c8343e"/>
<circle cx="215" cy="697.5" r="1.1" fill="#c8343e"/>
<circle cx="222" cy="697.5" r="1.1" fill="#c8343e"/>
<circle cx="229" cy="697.5" r="1.1" fill="#c8343e"/>
<polyline points="297.5,697.6 318.5,697.6 339.5,697.6 381.8,697.6" fill="none" stroke="#b02830" stroke-width="2" stroke-linejoin="round"/>
<rect x="296.2" y="696.3" width="2.6" height="2.6" fill="#b02830"/>
<rect x="317.2" y="696.3" width="2.6" height="2.6" fill="#b02830"/>
<rect x="338.2" y="696.3" width="2.6" height="2.6" fill="#b02830"/>
<rect x="380.5" y="696.3" width="2.6" height="2.6" fill="#b02830"/>
<polyline points="390,697 402,697 415,697" fill="none" stroke="#b02830" stroke-width="2" stroke-linejoin="round"/>
<rect x="388.7" y="695.7" width="2.6" height="2.6" fill="#b02830"/>
<rect x="400.7" y="695.7" width="2.6" height="2.6" fill="#b02830"/>
<rect x="413.7" y="695.7" width="2.6" height="2.6" fill="#b02830"/>
<polyline points="297.5,691.8 299,691.6 318.5,691.8 381.8,692.4" fill="none" stroke="#1c1c80" stroke-width="2.4" stroke-linejoin="round"/>
<rect x="296" y="690.3" width="3" height="3" fill="#1c1c80"/>
<rect x="297.5" y="690.1" width="3" height="3" fill="#1c1c80"/>
<rect x="317" y="690.3" width="3" height="3" fill="#1c1c80"/>
<polyline points="297.5,693.3 318.5,693.2 381.8,693.6" fill="none" stroke="#2a2aa0" stroke-width="1.3" stroke-linejoin="round"/>
<polyline points="390,692 395,691.5 405,693 415,693" fill="none" stroke="#1c1c80" stroke-width="2.6" stroke-linejoin="round"/>
<rect x="388.5" y="690.5" width="3" height="3" fill="#1c1c80"/>
<rect x="393.5" y="690" width="3" height="3" fill="#1c1c80"/>
<rect x="403.5" y="691.5" width="3" height="3" fill="#1c1c80"/>
<rect x="413.5" y="691.5" width="3" height="3" fill="#1c1c80"/>
<polyline points="106,833.5 118.5,833.6 145.4,833.7 161.8,833.8" fill="none" stroke="#111" stroke-width="1.3" stroke-linejoin="round"/>
<polygon points="106,831.94 104.7,834.54 107.3,834.54" fill="#111"/>
<polygon points="118.5,832.04 117.2,834.64 119.8,834.64" fill="#111"/>
<polygon points="145.4,832.14 144.1,834.74 146.7,834.74" fill="#111"/>
<polygon points="161.8,832.24 160.5,834.84 163.1,834.84" fill="#111"/>
<polyline points="170.5,833.8 174,833.8 193.3,833.5 198.8,833.3 228.3,833.8" fill="none" stroke="#111" stroke-width="1.3" stroke-linejoin="round"/>
<polygon points="174,832 172.5,835 175.5,835" fill="#111"/>
<polygon points="193.3,831.7 191.8,834.7 194.8,834.7" fill="#111"/>
<polygon points="198.8,831.5 197.3,834.5 200.3,834.5" fill="#111"/>
<polygon points="228.3,832 226.8,835 229.8,835" fill="#111"/>
<polyline points="64.3,820 78.3,835.8 92,835.8 106,820.6 118.5,820.6 145.4,833.8 161.8,834.6" fill="none" stroke="#c8343e" stroke-width="1.7" stroke-linejoin="round"/>
<rect x="63.2" y="818.9" width="2.2" height="2.2" fill="#c8343e"/>
<rect x="77.2" y="834.7" width="2.2" height="2.2" fill="#c8343e"/>
<rect x="90.9" y="834.7" width="2.2" height="2.2" fill="#c8343e"/>
<rect x="104.9" y="819.5" width="2.2" height="2.2" fill="#c8343e"/>
<rect x="117.4" y="819.5" width="2.2" height="2.2" fill="#c8343e"/>
<rect x="144.3" y="832.7" width="2.2" height="2.2" fill="#c8343e"/>
<polyline points="170.5,834.6 178,834.6" fill="none" stroke="#c8343e" stroke-width="2.2" stroke-linejoin="round"/>
<rect x="169.2" y="833.3" width="2.6" height="2.6" fill="#c8343e"/>
<rect x="176.7" y="833.3" width="2.6" height="2.6" fill="#c8343e"/>
<polyline points="106,828 107,830.8 118.5,825.4 145.4,796.9 162.3,795.4" fill="none" stroke="#24249f" stroke-width="1.6" stroke-linejoin="round"/>
<rect x="104.2" y="826.2" width="3.6" height="3.6" fill="#24249f"/>
<rect x="105.2" y="829" width="3.6" height="3.6" fill="#24249f"/>
<rect x="116.7" y="823.6" width="3.6" height="3.6" fill="#24249f"/>
<rect x="143.6" y="795.1" width="3.6" height="3.6" fill="#24249f"/>
<polyline points="170.8,794.9 174.6,794.6 177,776.3 193.3,793.8 198.8,777 228.3,800.8" fill="none" stroke="#24249f" stroke-width="1.6" stroke-linejoin="round"/>
<rect x="169" y="793.1" width="3.6" height="3.6" fill="#24249f"/>
<rect x="172.8" y="792.8" width="3.6" height="3.6" fill="#24249f"/>
<rect x="175.2" y="774.5" width="3.6" height="3.6" fill="#24249f"/>
<rect x="191.5" y="792" width="3.6" height="3.6" fill="#24249f"/>
<rect x="197" y="775.2" width="3.6" height="3.6" fill="#24249f"/>
<rect x="226.5" y="799" width="3.6" height="3.6" fill="#24249f"/>
<polyline points="298,836.3 392,836.3" fill="none" stroke="#b02830" stroke-width="2" stroke-linejoin="round"/>
<rect x="296.7" y="835" width="2.6" height="2.6" fill="#b02830"/>
<rect x="390.7" y="835" width="2.6" height="2.6" fill="#b02830"/>
<polyline points="400,835.8 477.5,835.8" fill="none" stroke="#b02830" stroke-width="2" stroke-linejoin="round"/>
<rect x="398.7" y="834.5" width="2.6" height="2.6" fill="#b02830"/>
<rect x="476.2" y="834.5" width="2.6" height="2.6" fill="#b02830"/>
<polyline points="298,831.3 321,831.5 345,833 392,832.6" fill="none" stroke="#3434cc" stroke-width="1.5" stroke-linejoin="round"/>
<rect x="296.7" y="830" width="2.6" height="2.6" fill="#3434cc"/>
<rect x="319.7" y="830.2" width="2.6" height="2.6" fill="#3434cc"/>
<rect x="343.7" y="831.7" width="2.6" height="2.6" fill="#3434cc"/>
<rect x="390.7" y="831.3" width="2.6" height="2.6" fill="#3434cc"/>
<polyline points="298,833.6 321.1,830.8 343.8,836" fill="none" stroke="#151530" stroke-width="1.4" stroke-linejoin="round"/>
<rect x="296.5" y="829.3" width="3" height="3" fill="#22228a"/>
<rect x="319.6" y="828.8" width="3" height="3" fill="#22228a"/>
<rect x="343.3" y="831.5" width="3" height="3" fill="#22228a"/>
<polyline points="400,832 402.5,832 411,832.5 452.5,833.3 476,834.3" fill="none" stroke="#2a2a9a" stroke-width="1.6" stroke-linejoin="round"/>
<rect x="401.1" y="830.6" width="2.8" height="2.8" fill="#1a1a50"/>
<rect x="409.6" y="831.1" width="2.8" height="2.8" fill="#1a1a50"/>
<rect x="451.1" y="831.9" width="2.8" height="2.8" fill="#1a1a50"/>
<polyline points="80,425 86.8,405 89.7,353.1 111.6,394 117.4,388.3 126.3,427.7 131,440" fill="none" stroke="#1c1cd8" stroke-width="1.15" stroke-linejoin="round"/>
<rect x="78.55" y="423.55" width="2.9" height="2.9" fill="#1c1cd8"/>
<rect x="85.35" y="403.55" width="2.9" height="2.9" fill="#1c1cd8"/>
<rect x="88.25" y="351.65" width="2.9" height="2.9" fill="#1c1cd8"/>
<rect x="110.15" y="392.55" width="2.9" height="2.9" fill="#1c1cd8"/>
<rect x="115.95" y="386.85" width="2.9" height="2.9" fill="#1c1cd8"/>
<rect x="124.85" y="426.25" width="2.9" height="2.9" fill="#1c1cd8"/>
<rect x="129.55" y="438.55" width="2.9" height="2.9" fill="#1c1cd8"/>
<polyline points="70,430 76.4,405 86.6,371 105.3,382.5 111.6,394 118,400 133,420 155,426" fill="none" stroke="#1c1cd8" stroke-width="1.15" stroke-linejoin="round"/>
<rect x="68.55" y="428.55" width="2.9" height="2.9" fill="#1c1cd8"/>
<rect x="74.95" y="403.55" width="2.9" height="2.9" fill="#1c1cd8"/>
<rect x="85.15" y="369.55" width="2.9" height="2.9" fill="#1c1cd8"/>
<rect x="103.85" y="381.05" width="2.9" height="2.9" fill="#1c1cd8"/>
<rect x="110.15" y="392.55" width="2.9" height="2.9" fill="#1c1cd8"/>
<rect x="116.55" y="398.55" width="2.9" height="2.9" fill="#1c1cd8"/>
<rect x="131.55" y="418.55" width="2.9" height="2.9" fill="#1c1cd8"/>
<polyline points="64.9,388.3 64.9,398.6 65.2,412" fill="none" stroke="#1c1cd8" stroke-width="1.15" stroke-linejoin="round"/>
<rect x="63.45" y="386.85" width="2.9" height="2.9" fill="#1c1cd8"/>
<rect x="63.45" y="397.15" width="2.9" height="2.9" fill="#1c1cd8"/>
<rect x="63.75" y="410.55" width="2.9" height="2.9" fill="#1c1cd8"/>
<polyline points="72,415 77,394 80,412" fill="none" stroke="#1c1cd8" stroke-width="1.15" stroke-linejoin="round"/>
<rect x="70.55" y="413.55" width="2.9" height="2.9" fill="#1c1cd8"/>
<rect x="75.55" y="392.55" width="2.9" height="2.9" fill="#1c1cd8"/>
<rect x="78.55" y="410.55" width="2.9" height="2.9" fill="#1c1cd8"/>
<polyline points="79,420 83.3,396.9 88,415" fill="none" stroke="#1c1cd8" stroke-width="1.15" stroke-linejoin="round"/>
<rect x="77.55" y="418.55" width="2.9" height="2.9" fill="#1c1cd8"/>
<rect x="81.85" y="395.45" width="2.9" height="2.9" fill="#1c1cd8"/>
<rect x="86.55" y="413.55" width="2.9" height="2.9" fill="#1c1cd8"/>
<polyline points="112.8,395.8 117.4,388.3 123,400" fill="none" stroke="#1c1cd8" stroke-width="1.15" stroke-linejoin="round"/>
<rect x="111.35" y="394.35" width="2.9" height="2.9" fill="#1c1cd8"/>
<rect x="115.95" y="386.85" width="2.9" height="2.9" fill="#1c1cd8"/>
<rect x="121.55" y="398.55" width="2.9" height="2.9" fill="#1c1cd8"/>
<polyline points="65,410 72,418 85,408.5 155,378.7" fill="none" stroke="#1c1cd8" stroke-width="1.15" stroke-linejoin="round"/>
<rect x="63.55" y="408.55" width="2.9" height="2.9" fill="#1c1cd8"/>
<rect x="70.55" y="416.55" width="2.9" height="2.9" fill="#1c1cd8"/>
<rect x="83.55" y="407.05" width="2.9" height="2.9" fill="#1c1cd8"/>
<polyline points="64.8,432 78,425 90.8,405.6 155,389.2" fill="none" stroke="#1c1cd8" stroke-width="1.15" stroke-linejoin="round"/>
<rect x="63.35" y="430.55" width="2.9" height="2.9" fill="#1c1cd8"/>
<rect x="76.55" y="423.55" width="2.9" height="2.9" fill="#1c1cd8"/>
<rect x="89.35" y="404.15" width="2.9" height="2.9" fill="#1c1cd8"/>
<polyline points="65,428 80,424 100,408.8 130,402 155,395" fill="none" stroke="#1c1cd8" stroke-width="1.15" stroke-linejoin="round"/>
<rect x="63.55" y="426.55" width="2.9" height="2.9" fill="#1c1cd8"/>
<rect x="78.55" y="422.55" width="2.9" height="2.9" fill="#1c1cd8"/>
<rect x="98.55" y="407.35" width="2.9" height="2.9" fill="#1c1cd8"/>
<rect x="128.55" y="400.55" width="2.9" height="2.9" fill="#1c1cd8"/>
<polyline points="65,436 90,410 122.5,405 137.5,412.5 155,416.3" fill="none" stroke="#1c1cd8" stroke-width="1.15" stroke-linejoin="round"/>
<rect x="63.55" y="434.55" width="2.9" height="2.9" fill="#1c1cd8"/>
<rect x="88.55" y="408.55" width="2.9" height="2.9" fill="#1c1cd8"/>
<rect x="121.05" y="403.55" width="2.9" height="2.9" fill="#1c1cd8"/>
<rect x="136.05" y="411.05" width="2.9" height="2.9" fill="#1c1cd8"/>
<polyline points="65,405 70,420 78.3,394 85,430 100,425 132.1,399.8 138,425 155,433" fill="none" stroke="#1c1cd8" stroke-width="1.15" stroke-linejoin="round"/>
<rect x="63.55" y="403.55" width="2.9" height="2.9" fill="#1c1cd8"/>
<rect x="68.55" y="418.55" width="2.9" height="2.9" fill="#1c1cd8"/>
<rect x="76.85" y="392.55" width="2.9" height="2.9" fill="#1c1cd8"/>
<rect x="83.55" y="428.55" width="2.9" height="2.9" fill="#1c1cd8"/>
<rect x="98.55" y="423.55" width="2.9" height="2.9" fill="#1c1cd8"/>
<rect x="130.65" y="398.35" width="2.9" height="2.9" fill="#1c1cd8"/>
<rect x="136.55" y="423.55" width="2.9" height="2.9" fill="#1c1cd8"/>
<polyline points="65,440 75,432 88,418 110,416 130,390 142.5,393.8 155,402" fill="none" stroke="#1c1cd8" stroke-width="1.15" stroke-linejoin="round"/>
<rect x="63.55" y="438.55" width="2.9" height="2.9" fill="#1c1cd8"/>
<rect x="73.55" y="430.55" width="2.9" height="2.9" fill="#1c1cd8"/>
<rect x="86.55" y="416.55" width="2.9" height="2.9" fill="#1c1cd8"/>
<rect x="108.55" y="414.55" width="2.9" height="2.9" fill="#1c1cd8"/>
<rect x="128.55" y="388.55" width="2.9" height="2.9" fill="#1c1cd8"/>
<rect x="141.05" y="392.35" width="2.9" height="2.9" fill="#1c1cd8"/>
<polyline points="65,426 75,438 92,428 105,432 118,434 140,436 155,437" fill="none" stroke="#1c1cd8" stroke-width="1.15" stroke-linejoin="round"/>
<rect x="63.55" y="424.55" width="2.9" height="2.9" fill="#1c1cd8"/>
<rect x="73.55" y="436.55" width="2.9" height="2.9" fill="#1c1cd8"/>
<rect x="90.55" y="426.55" width="2.9" height="2.9" fill="#1c1cd8"/>
<rect x="103.55" y="430.55" width="2.9" height="2.9" fill="#1c1cd8"/>
<rect x="116.55" y="432.55" width="2.9" height="2.9" fill="#1c1cd8"/>
<rect x="138.55" y="434.55" width="2.9" height="2.9" fill="#1c1cd8"/>
<polyline points="65,423 72,410 80,440 100,438 112,440 130,441 155,441" fill="none" stroke="#1c1cd8" stroke-width="1.15" stroke-linejoin="round"/>
<rect x="63.55" y="421.55" width="2.9" height="2.9" fill="#1c1cd8"/>
<rect x="70.55" y="408.55" width="2.9" height="2.9" fill="#1c1cd8"/>
<rect x="78.55" y="438.55" width="2.9" height="2.9" fill="#1c1cd8"/>
<rect x="98.55" y="436.55" width="2.9" height="2.9" fill="#1c1cd8"/>
<rect x="110.55" y="438.55" width="2.9" height="2.9" fill="#1c1cd8"/>
<rect x="128.55" y="439.55" width="2.9" height="2.9" fill="#1c1cd8"/>
<polyline points="65,434 68,425 74,415 80,433 86,420 98,415 111,422 125,433 140,441" fill="none" stroke="#1c1cd8" stroke-width="1.15" stroke-linejoin="round"/>
<rect x="63.55" y="432.55" width="2.9" height="2.9" fill="#1c1cd8"/>
<rect x="66.55" y="423.55" width="2.9" height="2.9" fill="#1c1cd8"/>
<rect x="72.55" y="413.55" width="2.9" height="2.9" fill="#1c1cd8"/>
<rect x="78.55" y="431.55" width="2.9" height="2.9" fill="#1c1cd8"/>
<rect x="84.55" y="418.55" width="2.9" height="2.9" fill="#1c1cd8"/>
<rect x="96.55" y="413.55" width="2.9" height="2.9" fill="#1c1cd8"/>
<rect x="109.55" y="420.55" width="2.9" height="2.9" fill="#1c1cd8"/>
<rect x="123.55" y="431.55" width="2.9" height="2.9" fill="#1c1cd8"/>
<rect x="138.55" y="439.55" width="2.9" height="2.9" fill="#1c1cd8"/>
<polyline points="65,438 76,428 84,440 94,436 108,441 125,441.5 155,441.8" fill="none" stroke="#1c1cd8" stroke-width="1.15" stroke-linejoin="round"/>
<rect x="63.55" y="436.55" width="2.9" height="2.9" fill="#1c1cd8"/>
<rect x="74.55" y="426.55" width="2.9" height="2.9" fill="#1c1cd8"/>
<rect x="82.55" y="438.55" width="2.9" height="2.9" fill="#1c1cd8"/>
<rect x="92.55" y="434.55" width="2.9" height="2.9" fill="#1c1cd8"/>
<rect x="106.55" y="439.55" width="2.9" height="2.9" fill="#1c1cd8"/>
<rect x="123.55" y="440.05" width="2.9" height="2.9" fill="#1c1cd8"/>
<polyline points="65,441 70,436 78,441 88,441 100,441 115,441.5 155,442" fill="none" stroke="#1c1cd8" stroke-width="1.15" stroke-linejoin="round"/>
<rect x="63.55" y="439.55" width="2.9" height="2.9" fill="#1c1cd8"/>
<rect x="68.55" y="434.55" width="2.9" height="2.9" fill="#1c1cd8"/>
<rect x="76.55" y="439.55" width="2.9" height="2.9" fill="#1c1cd8"/>
<rect x="86.55" y="439.55" width="2.9" height="2.9" fill="#1c1cd8"/>
<rect x="98.55" y="439.55" width="2.9" height="2.9" fill="#1c1cd8"/>
<rect x="113.55" y="440.05" width="2.9" height="2.9" fill="#1c1cd8"/>
<polyline points="64.8,400.5 66,420 70,440" fill="none" stroke="#1c1cd8" stroke-width="1.15" stroke-linejoin="round"/>
<rect x="63.35" y="399.05" width="2.9" height="2.9" fill="#1c1cd8"/>
<rect x="64.55" y="418.55" width="2.9" height="2.9" fill="#1c1cd8"/>
<rect x="68.55" y="438.55" width="2.9" height="2.9" fill="#1c1cd8"/>
<polyline points="65,442 67,430 73,425 77,441 82,427 90,439 96,431 104,441" fill="none" stroke="#1c1cd8" stroke-width="1.15" stroke-linejoin="round"/>
<rect x="63.55" y="440.55" width="2.9" height="2.9" fill="#1c1cd8"/>
<rect x="65.55" y="428.55" width="2.9" height="2.9" fill="#1c1cd8"/>
<rect x="71.55" y="423.55" width="2.9" height="2.9" fill="#1c1cd8"/>
<rect x="75.55" y="439.55" width="2.9" height="2.9" fill="#1c1cd8"/>
<rect x="80.55" y="425.55" width="2.9" height="2.9" fill="#1c1cd8"/>
<rect x="88.55" y="437.55" width="2.9" height="2.9" fill="#1c1cd8"/>
<rect x="94.55" y="429.55" width="2.9" height="2.9" fill="#1c1cd8"/>
<rect x="102.55" y="439.55" width="2.9" height="2.9" fill="#1c1cd8"/>
<polyline points="66,437 73,432 79,420 86,437 92,432 99,398 106,424" fill="none" stroke="#1c1cd8" stroke-width="1.15" stroke-linejoin="round"/>
<rect x="64.55" y="435.55" width="2.9" height="2.9" fill="#1c1cd8"/>
<rect x="71.55" y="430.55" width="2.9" height="2.9" fill="#1c1cd8"/>
<rect x="77.55" y="418.55" width="2.9" height="2.9" fill="#1c1cd8"/>
<rect x="84.55" y="435.55" width="2.9" height="2.9" fill="#1c1cd8"/>
<rect x="90.55" y="430.55" width="2.9" height="2.9" fill="#1c1cd8"/>
<rect x="97.55" y="396.55" width="2.9" height="2.9" fill="#1c1cd8"/>
<rect x="104.55" y="422.55" width="2.9" height="2.9" fill="#1c1cd8"/>
<polyline points="65.5,416 70,426 74,412 78,437 84,428" fill="none" stroke="#1c1cd8" stroke-width="1.15" stroke-linejoin="round"/>
<rect x="64.05" y="414.55" width="2.9" height="2.9" fill="#1c1cd8"/>
<rect x="68.55" y="424.55" width="2.9" height="2.9" fill="#1c1cd8"/>
<rect x="72.55" y="410.55" width="2.9" height="2.9" fill="#1c1cd8"/>
<rect x="76.55" y="435.55" width="2.9" height="2.9" fill="#1c1cd8"/>
<rect x="82.55" y="426.55" width="2.9" height="2.9" fill="#1c1cd8"/>
<polyline points="66,420 69,404 73,428 77,418 81,436" fill="none" stroke="#1c1cd8" stroke-width="1.15" stroke-linejoin="round"/>
<rect x="64.55" y="418.55" width="2.9" height="2.9" fill="#1c1cd8"/>
<rect x="67.55" y="402.55" width="2.9" height="2.9" fill="#1c1cd8"/>
<rect x="71.55" y="426.55" width="2.9" height="2.9" fill="#1c1cd8"/>
<rect x="75.55" y="416.55" width="2.9" height="2.9" fill="#1c1cd8"/>
<rect x="79.55" y="434.55" width="2.9" height="2.9" fill="#1c1cd8"/>
<polyline points="65,430 71,441 76,420 83,405 93,432 97,441" fill="none" stroke="#1c1cd8" stroke-width="1.15" stroke-linejoin="round"/>
<rect x="63.55" y="428.55" width="2.9" height="2.9" fill="#1c1cd8"/>
<rect x="69.55" y="439.55" width="2.9" height="2.9" fill="#1c1cd8"/>
<rect x="74.55" y="418.55" width="2.9" height="2.9" fill="#1c1cd8"/>
<rect x="81.55" y="403.55" width="2.9" height="2.9" fill="#1c1cd8"/>
<rect x="91.55" y="430.55" width="2.9" height="2.9" fill="#1c1cd8"/>
<rect x="95.55" y="439.55" width="2.9" height="2.9" fill="#1c1cd8"/>
<polyline points="161.6,374.9 202.9,354.8 216,397.1 234,405" fill="none" stroke="#1c1cd8" stroke-width="1.15" stroke-linejoin="round"/>
<rect x="201.45" y="353.35" width="2.9" height="2.9" fill="#1c1cd8"/>
<rect x="214.55" y="395.65" width="2.9" height="2.9" fill="#1c1cd8"/>
<rect x="232.55" y="403.55" width="2.9" height="2.9" fill="#1c1cd8"/>
<polyline points="161.6,385 215,358.4" fill="none" stroke="#1c1cd8" stroke-width="1.15" stroke-linejoin="round"/>
<rect x="213.55" y="356.95" width="2.9" height="2.9" fill="#1c1cd8"/>
<polyline points="161.6,392.9 195,383.8" fill="none" stroke="#1c1cd8" stroke-width="1.15" stroke-linejoin="round"/>
<rect x="193.55" y="382.35" width="2.9" height="2.9" fill="#1c1cd8"/>
<rect x="161.4" y="399.4" width="2.6" height="2.6" fill="#1c1cd8"/>
<polyline points="161.6,415.9 178.6,419.5 188.5,409.1 240.5,423.3" fill="none" stroke="#1c1cd8" stroke-width="1.15" stroke-linejoin="round"/>
<rect x="177.15" y="418.05" width="2.9" height="2.9" fill="#1c1cd8"/>
<rect x="187.05" y="407.65" width="2.9" height="2.9" fill="#1c1cd8"/>
<rect x="239.05" y="421.85" width="2.9" height="2.9" fill="#1c1cd8"/>
<polyline points="161.6,427.1 182.8,433.2 198.7,434.5 206,441.3 216.6,436.4" fill="none" stroke="#1c1cd8" stroke-width="1.15" stroke-linejoin="round"/>
<rect x="181.35" y="431.75" width="2.9" height="2.9" fill="#1c1cd8"/>
<rect x="197.25" y="433.05" width="2.9" height="2.9" fill="#1c1cd8"/>
<rect x="204.55" y="439.85" width="2.9" height="2.9" fill="#1c1cd8"/>
<rect x="215.15" y="434.95" width="2.9" height="2.9" fill="#1c1cd8"/>
<polyline points="161.6,429.6 197.6,434.9 206,439.1" fill="none" stroke="#1c1cd8" stroke-width="1.15" stroke-linejoin="round"/>
<rect x="196.15" y="433.45" width="2.9" height="2.9" fill="#1c1cd8"/>
<rect x="204.55" y="437.65" width="2.9" height="2.9" fill="#1c1cd8"/>
<polyline points="161.6,439.5 231.4,439.8 250.5,427.1" fill="none" stroke="#1c1cd8" stroke-width="1.15" stroke-linejoin="round"/>
<rect x="229.95" y="438.35" width="2.9" height="2.9" fill="#1c1cd8"/>
<rect x="249.05" y="425.65" width="2.9" height="2.9" fill="#1c1cd8"/>
<polyline points="161.6,441.7 171.2,436 177.5,437.7 181.7,441.8 195,441.8 210,441.5" fill="none" stroke="#1c1cd8" stroke-width="1.15" stroke-linejoin="round"/>
<rect x="169.75" y="434.55" width="2.9" height="2.9" fill="#1c1cd8"/>
<rect x="176.05" y="436.25" width="2.9" height="2.9" fill="#1c1cd8"/>
<rect x="180.25" y="440.35" width="2.9" height="2.9" fill="#1c1cd8"/>
<rect x="193.55" y="440.35" width="2.9" height="2.9" fill="#1c1cd8"/>
<rect x="208.55" y="440.05" width="2.9" height="2.9" fill="#1c1cd8"/>
<polyline points="161.6,433 172,439 186,440.5 198,438 225,441" fill="none" stroke="#1c1cd8" stroke-width="1.15" stroke-linejoin="round"/>
<rect x="170.55" y="437.55" width="2.9" height="2.9" fill="#1c1cd8"/>
<rect x="184.55" y="439.05" width="2.9" height="2.9" fill="#1c1cd8"/>
<rect x="196.55" y="436.55" width="2.9" height="2.9" fill="#1c1cd8"/>
<rect x="223.55" y="439.55" width="2.9" height="2.9" fill="#1c1cd8"/>
<polyline points="161.6,424 175,430 190,436" fill="none" stroke="#1c1cd8" stroke-width="1.15" stroke-linejoin="round"/>
<rect x="173.55" y="428.55" width="2.9" height="2.9" fill="#1c1cd8"/>
<rect x="188.55" y="434.55" width="2.9" height="2.9" fill="#1c1cd8"/>
<polyline points="297.3,383 296.8,375 305.3,322 311.8,332.8 318,359.5 330.5,300.8 355.5,350.3 380.5,361.3" fill="none" stroke="#1c1cd8" stroke-width="1.15" stroke-linejoin="round"/>
<rect x="295.85" y="381.55" width="2.9" height="2.9" fill="#1c1cd8"/>
<rect x="295.35" y="373.55" width="2.9" height="2.9" fill="#1c1cd8"/>
<rect x="303.85" y="320.55" width="2.9" height="2.9" fill="#1c1cd8"/>
<rect x="310.35" y="331.35" width="2.9" height="2.9" fill="#1c1cd8"/>
<rect x="316.55" y="358.05" width="2.9" height="2.9" fill="#1c1cd8"/>
<rect x="329.05" y="299.35" width="2.9" height="2.9" fill="#1c1cd8"/>
<rect x="354.05" y="348.85" width="2.9" height="2.9" fill="#1c1cd8"/>
<rect x="379.05" y="359.85" width="2.9" height="2.9" fill="#1c1cd8"/>
<polyline points="296.7,402.1 306.3,430.4 309.2,421.9 312.5,394.4 315,413.1 318.8,435.4 331.3,416.9 353.5,403.5 368.8,406 386,397" fill="none" stroke="#1c1cd8" stroke-width="1.15" stroke-linejoin="round"/>
<rect x="295.25" y="400.65" width="2.9" height="2.9" fill="#1c1cd8"/>
<rect x="304.85" y="428.95" width="2.9" height="2.9" fill="#1c1cd8"/>
<rect x="307.75" y="420.45" width="2.9" height="2.9" fill="#1c1cd8"/>
<rect x="311.05" y="392.95" width="2.9" height="2.9" fill="#1c1cd8"/>
<rect x="313.55" y="411.65" width="2.9" height="2.9" fill="#1c1cd8"/>
<rect x="317.35" y="433.95" width="2.9" height="2.9" fill="#1c1cd8"/>
<rect x="329.85" y="415.45" width="2.9" height="2.9" fill="#1c1cd8"/>
<rect x="352.05" y="402.05" width="2.9" height="2.9" fill="#1c1cd8"/>
<rect x="367.35" y="404.55" width="2.9" height="2.9" fill="#1c1cd8"/>
<polyline points="315,413.1 386,434.8" fill="none" stroke="#1c1cd8" stroke-width="1.15" stroke-linejoin="round"/>
<rect x="313.55" y="411.65" width="2.9" height="2.9" fill="#1c1cd8"/>
<polyline points="318.8,435.4 330.4,422.7 342.9,427.7 386,436.7" fill="none" stroke="#1c1cd8" stroke-width="1.15" stroke-linejoin="round"/>
<rect x="317.35" y="433.95" width="2.9" height="2.9" fill="#1c1cd8"/>
<rect x="328.95" y="421.25" width="2.9" height="2.9" fill="#1c1cd8"/>
<rect x="341.45" y="426.25" width="2.9" height="2.9" fill="#1c1cd8"/>
<polyline points="296.7,423.3 298,438" fill="none" stroke="#1c1cd8" stroke-width="1.15" stroke-linejoin="round"/>
<rect x="295.25" y="421.85" width="2.9" height="2.9" fill="#1c1cd8"/>
<rect x="296.55" y="436.55" width="2.9" height="2.9" fill="#1c1cd8"/>
<polyline points="296.5,436 302,440 311.2,435.8 316,440 330,440.5 350,440 370,440.8 386,440.5" fill="none" stroke="#1c1cd8" stroke-width="1.15" stroke-linejoin="round"/>
<rect x="295.05" y="434.55" width="2.9" height="2.9" fill="#1c1cd8"/>
<rect x="300.55" y="438.55" width="2.9" height="2.9" fill="#1c1cd8"/>
<rect x="309.75" y="434.35" width="2.9" height="2.9" fill="#1c1cd8"/>
<rect x="314.55" y="438.55" width="2.9" height="2.9" fill="#1c1cd8"/>
<rect x="328.55" y="439.05" width="2.9" height="2.9" fill="#1c1cd8"/>
<rect x="348.55" y="438.55" width="2.9" height="2.9" fill="#1c1cd8"/>
<rect x="368.55" y="439.35" width="2.9" height="2.9" fill="#1c1cd8"/>
<polyline points="296.5,439 305,441 320,441.5 345,441 365,441.5 386,441.5" fill="none" stroke="#1c1cd8" stroke-width="1.15" stroke-linejoin="round"/>
<rect x="295.05" y="437.55" width="2.9" height="2.9" fill="#1c1cd8"/>
<rect x="303.55" y="439.55" width="2.9" height="2.9" fill="#1c1cd8"/>
<rect x="318.55" y="440.05" width="2.9" height="2.9" fill="#1c1cd8"/>
<rect x="343.55" y="439.55" width="2.9" height="2.9" fill="#1c1cd8"/>
<rect x="363.55" y="440.05" width="2.9" height="2.9" fill="#1c1cd8"/>
<polyline points="296.5,433 300,438 310,438.5 340,439.5 386,438.5" fill="none" stroke="#1c1cd8" stroke-width="1.15" stroke-linejoin="round"/>
<rect x="295.05" y="431.55" width="2.9" height="2.9" fill="#1c1cd8"/>
<rect x="298.55" y="436.55" width="2.9" height="2.9" fill="#1c1cd8"/>
<rect x="308.55" y="437.05" width="2.9" height="2.9" fill="#1c1cd8"/>
<rect x="338.55" y="438.05" width="2.9" height="2.9" fill="#1c1cd8"/>
<polyline points="296.5,441 386,442" fill="none" stroke="#1c1cd8" stroke-width="1.15" stroke-linejoin="round"/>
<rect x="295.05" y="439.55" width="2.9" height="2.9" fill="#1c1cd8"/>
<polyline points="296.5,430 299,436 304,441" fill="none" stroke="#1c1cd8" stroke-width="1.15" stroke-linejoin="round"/>
<rect x="295.05" y="428.55" width="2.9" height="2.9" fill="#1c1cd8"/>
<rect x="297.55" y="434.55" width="2.9" height="2.9" fill="#1c1cd8"/>
<rect x="302.55" y="439.55" width="2.9" height="2.9" fill="#1c1cd8"/>
<polyline points="296.7,402.1 296.8,412 297.2,425 297,440" fill="none" stroke="#1c1cd8" stroke-width="1.15" stroke-linejoin="round"/>
<rect x="295.25" y="400.65" width="2.9" height="2.9" fill="#1c1cd8"/>
<rect x="295.35" y="410.55" width="2.9" height="2.9" fill="#1c1cd8"/>
<rect x="295.75" y="423.55" width="2.9" height="2.9" fill="#1c1cd8"/>
<rect x="295.55" y="438.55" width="2.9" height="2.9" fill="#1c1cd8"/>
<polyline points="297,437 301,439.5 306,436 312,438.6 322,439.2 333,438.4 345,439.6 358,438.8 372,439.3 386,439" fill="none" stroke="#1c1cd8" stroke-width="1.15" stroke-linejoin="round"/>
<rect x="295.55" y="435.55" width="2.9" height="2.9" fill="#1c1cd8"/>
<rect x="299.55" y="438.05" width="2.9" height="2.9" fill="#1c1cd8"/>
<rect x="304.55" y="434.55" width="2.9" height="2.9" fill="#1c1cd8"/>
<rect x="310.55" y="437.15" width="2.9" height="2.9" fill="#1c1cd8"/>
<rect x="320.55" y="437.75" width="2.9" height="2.9" fill="#1c1cd8"/>
<rect x="331.55" y="436.95" width="2.9" height="2.9" fill="#1c1cd8"/>
<rect x="343.55" y="438.15" width="2.9" height="2.9" fill="#1c1cd8"/>
<rect x="356.55" y="437.35" width="2.9" height="2.9" fill="#1c1cd8"/>
<rect x="370.55" y="437.85" width="2.9" height="2.9" fill="#1c1cd8"/>
<polyline points="297,440.5 303,437.5 309,440.8 318,440 328,441.2 340,440.4 352,441 365,440.2 377,441 386,440.6" fill="none" stroke="#1c1cd8" stroke-width="1.15" stroke-linejoin="round"/>
<rect x="295.55" y="439.05" width="2.9" height="2.9" fill="#1c1cd8"/>
<rect x="301.55" y="436.05" width="2.9" height="2.9" fill="#1c1cd8"/>
<rect x="307.55" y="439.35" width="2.9" height="2.9" fill="#1c1cd8"/>
<rect x="316.55" y="438.55" width="2.9" height="2.9" fill="#1c1cd8"/>
<rect x="326.55" y="439.75" width="2.9" height="2.9" fill="#1c1cd8"/>
<rect x="338.55" y="438.95" width="2.9" height="2.9" fill="#1c1cd8"/>
<rect x="350.55" y="439.55" width="2.9" height="2.9" fill="#1c1cd8"/>
<rect x="363.55" y="438.75" width="2.9" height="2.9" fill="#1c1cd8"/>
<rect x="375.55" y="439.55" width="2.9" height="2.9" fill="#1c1cd8"/>
<polyline points="297,435 300,432 304,437 307,434 310.4,435.4 314,439 320,437.6 335,437.8 355,437.2 386,437.5" fill="none" stroke="#1c1cd8" stroke-width="1.15" stroke-linejoin="round"/>
<rect x="295.55" y="433.55" width="2.9" height="2.9" fill="#1c1cd8"/>
<rect x="298.55" y="430.55" width="2.9" height="2.9" fill="#1c1cd8"/>
<rect x="302.55" y="435.55" width="2.9" height="2.9" fill="#1c1cd8"/>
<rect x="305.55" y="432.55" width="2.9" height="2.9" fill="#1c1cd8"/>
<rect x="308.95" y="433.95" width="2.9" height="2.9" fill="#1c1cd8"/>
<rect x="312.55" y="437.55" width="2.9" height="2.9" fill="#1c1cd8"/>
<rect x="318.55" y="436.15" width="2.9" height="2.9" fill="#1c1cd8"/>
<rect x="333.55" y="436.35" width="2.9" height="2.9" fill="#1c1cd8"/>
<rect x="353.55" y="435.75" width="2.9" height="2.9" fill="#1c1cd8"/>
<polyline points="392,393.6 425.2,377" fill="none" stroke="#1c1cd8" stroke-width="1.15" stroke-linejoin="round"/>
<rect x="423.75" y="375.55" width="2.9" height="2.9" fill="#1c1cd8"/>
<polyline points="393.1,440.9 400.2,437.6 416.3,431.2 419.3,436.8 423.4,441.7 445.6,440.9 468.8,435.2 471.9,434.2" fill="none" stroke="#1c1cd8" stroke-width="1.15" stroke-linejoin="round"/>
<rect x="398.75" y="436.15" width="2.9" height="2.9" fill="#1c1cd8"/>
<rect x="414.85" y="429.75" width="2.9" height="2.9" fill="#1c1cd8"/>
<rect x="417.85" y="435.35" width="2.9" height="2.9" fill="#1c1cd8"/>
<rect x="421.95" y="440.25" width="2.9" height="2.9" fill="#1c1cd8"/>
<rect x="444.15" y="439.45" width="2.9" height="2.9" fill="#1c1cd8"/>
<rect x="467.35" y="433.75" width="2.9" height="2.9" fill="#1c1cd8"/>
<rect x="470.45" y="432.75" width="2.9" height="2.9" fill="#1c1cd8"/>
<polyline points="393.1,436.2 468.8,436.2" fill="none" stroke="#1c1cd8" stroke-width="1.15" stroke-linejoin="round"/>
<rect x="467.35" y="434.75" width="2.9" height="2.9" fill="#1c1cd8"/>
<polyline points="393.1,441.7 483,441.7" fill="none" stroke="#1c1cd8" stroke-width="1.15" stroke-linejoin="round"/>
<rect x="481.55" y="440.25" width="2.9" height="2.9" fill="#1c1cd8"/>
<polyline points="393.1,439 405,440 420,440.5 440,441" fill="none" stroke="#1c1cd8" stroke-width="1.15" stroke-linejoin="round"/>
<rect x="403.55" y="438.55" width="2.9" height="2.9" fill="#1c1cd8"/>
<rect x="418.55" y="439.05" width="2.9" height="2.9" fill="#1c1cd8"/>
<rect x="438.55" y="439.55" width="2.9" height="2.9" fill="#1c1cd8"/>
<polyline points="393.3,439.5 397,438 401,439.7 405,438.3 410,439.8 414,438.5 418,440 424,441.5 430,441.7 437,441.3 444,441.8 453,441 463,441.5" fill="none" stroke="#1c1cd8" stroke-width="1.15" stroke-linejoin="round"/>
<rect x="395.55" y="436.55" width="2.9" height="2.9" fill="#1c1cd8"/>
<rect x="399.55" y="438.25" width="2.9" height="2.9" fill="#1c1cd8"/>
<rect x="403.55" y="436.85" width="2.9" height="2.9" fill="#1c1cd8"/>
<rect x="408.55" y="438.35" width="2.9" height="2.9" fill="#1c1cd8"/>
<rect x="412.55" y="437.05" width="2.9" height="2.9" fill="#1c1cd8"/>
<rect x="416.55" y="438.55" width="2.9" height="2.9" fill="#1c1cd8"/>
<rect x="422.55" y="440.05" width="2.9" height="2.9" fill="#1c1cd8"/>
<rect x="428.55" y="440.25" width="2.9" height="2.9" fill="#1c1cd8"/>
<rect x="435.55" y="439.85" width="2.9" height="2.9" fill="#1c1cd8"/>
<rect x="442.55" y="440.35" width="2.9" height="2.9" fill="#1c1cd8"/>
<rect x="451.55" y="439.55" width="2.9" height="2.9" fill="#1c1cd8"/>
<rect x="461.55" y="440.05" width="2.9" height="2.9" fill="#1c1cd8"/>
<polyline points="393.3,441 399,440.5 407,441.2 412,440 420,441.4 426,442" fill="none" stroke="#1c1cd8" stroke-width="1.15" stroke-linejoin="round"/>
<rect x="397.55" y="439.05" width="2.9" height="2.9" fill="#1c1cd8"/>
<rect x="405.55" y="439.75" width="2.9" height="2.9" fill="#1c1cd8"/>
<rect x="410.55" y="438.55" width="2.9" height="2.9" fill="#1c1cd8"/>
<rect x="418.55" y="439.95" width="2.9" height="2.9" fill="#1c1cd8"/>
<rect x="424.55" y="440.55" width="2.9" height="2.9" fill="#1c1cd8"/>
</svg>
</body></html>
